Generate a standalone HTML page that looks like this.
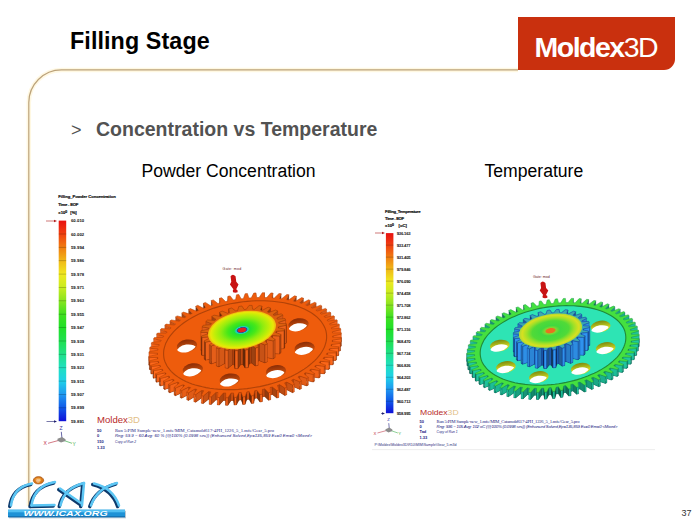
<!DOCTYPE html>
<html><head><meta charset="utf-8"><style>
*{margin:0;padding:0;box-sizing:border-box}
html,body{width:700px;height:525px;overflow:hidden;background:#fff}
body{position:relative;font-family:"Liberation Sans",Arial,sans-serif}
.abs{position:absolute;white-space:nowrap}
#title{left:70px;top:28px;font-size:23.3px;font-weight:bold;color:#000;letter-spacing:0.1px}
#mbox{position:absolute;left:518px;top:17px;width:157px;height:52.5px;background:#c9300e;border-bottom-right-radius:11px}
#mtxt{left:534.5px;top:31.3px;font-size:28.5px;color:#fff;letter-spacing:-1.5px}
#mtxt b{font-weight:bold}
#mtxt span{font-weight:normal}
#gt{left:71px;top:119.5px;font-size:18px;color:#525252;}
#sub{left:96px;top:117.8px;font-size:19.5px;font-weight:bold;color:#525252}
#pc{left:141.5px;top:160.5px;font-size:17.6px;color:#000}
#tc{left:484.5px;top:160.5px;font-size:17.6px;color:#000}
#pg{left:681.6px;top:508.4px;font-size:9px;color:#333}
svg{position:absolute;left:0;top:0}
.lab{font-size:4.2px;font-weight:bold;fill:#1a1a1a;stroke:#1a1a1a;stroke-width:0.05px;font-family:"Liberation Sans",Arial,sans-serif}
.tt{font-size:4.2px;font-weight:bold;fill:#111;stroke:#111;stroke-width:0.18px;font-family:"Liberation Sans",Arial,sans-serif}
.ax{font-size:5px;font-family:"Liberation Sans",Arial,sans-serif}
.nv{font-size:4px;font-weight:bold;fill:#202080;font-family:"Liberation Sans",Arial,sans-serif}
.inf{font-size:4.6px;fill:#202080;font-family:"Liberation Serif",serif}
.infi{font-size:4.3px;fill:#202080;font-style:italic;font-family:"Liberation Sans",Arial,sans-serif}
</style></head><body>
<div class="abs" id="title">Filling Stage</div>
<div id="mbox"></div>
<div class="abs" id="mtxt"><b>Moldex</b><span>3D</span></div>
<div class="abs" id="gt">&gt;</div>
<div class="abs" id="sub">Concentration vs Temperature</div>
<div class="abs" id="pc">Powder Concentration</div>
<div class="abs" id="tc">Temperature</div>
<svg width="700" height="525" viewBox="0 0 700 525">
<defs>
<linearGradient id="gbL" x1="0" y1="0" x2="0" y2="1">
<stop offset="0.0000" stop-color="#e81010"/>
<stop offset="0.0667" stop-color="#f04010"/>
<stop offset="0.1333" stop-color="#f07c10"/>
<stop offset="0.2000" stop-color="#f0b818"/>
<stop offset="0.2667" stop-color="#f0e820"/>
<stop offset="0.3333" stop-color="#c8ec20"/>
<stop offset="0.4000" stop-color="#88e420"/>
<stop offset="0.4667" stop-color="#40e020"/>
<stop offset="0.5333" stop-color="#20e028"/>
<stop offset="0.6000" stop-color="#20e050"/>
<stop offset="0.6667" stop-color="#20e088"/>
<stop offset="0.7333" stop-color="#20e0c0"/>
<stop offset="0.8000" stop-color="#20d0e8"/>
<stop offset="0.8667" stop-color="#2098f0"/>
<stop offset="0.9333" stop-color="#1058e8"/>
<stop offset="1.0000" stop-color="#1010d8"/>
</linearGradient>
<linearGradient id="gbR" x1="0" y1="0" x2="0" y2="1">
<stop offset="0.0000" stop-color="#e81010"/>
<stop offset="0.0667" stop-color="#f04010"/>
<stop offset="0.1333" stop-color="#f07c10"/>
<stop offset="0.2000" stop-color="#f0b818"/>
<stop offset="0.2667" stop-color="#f0e820"/>
<stop offset="0.3333" stop-color="#c8ec20"/>
<stop offset="0.4000" stop-color="#88e420"/>
<stop offset="0.4667" stop-color="#40e020"/>
<stop offset="0.5333" stop-color="#20e028"/>
<stop offset="0.6000" stop-color="#20e050"/>
<stop offset="0.6667" stop-color="#20e088"/>
<stop offset="0.7333" stop-color="#20e0c0"/>
<stop offset="0.8000" stop-color="#20d0e8"/>
<stop offset="0.8667" stop-color="#2098f0"/>
<stop offset="0.9333" stop-color="#1058e8"/>
<stop offset="1.0000" stop-color="#1010d8"/>
</linearGradient>
<radialGradient id="hubL" cx="0.5" cy="0.5" r="0.5">
<stop offset="0" stop-color="#e02020"/>
<stop offset="0.11" stop-color="#e02020"/>
<stop offset="0.14" stop-color="#2050a0"/>
<stop offset="0.17" stop-color="#20d0d0"/>
<stop offset="0.23" stop-color="#20e030"/>
<stop offset="0.42" stop-color="#48e818"/>
<stop offset="0.62" stop-color="#90ec10"/>
<stop offset="0.8" stop-color="#c0ee08"/>
<stop offset="0.92" stop-color="#e8e808"/>
<stop offset="1" stop-color="#f0b010"/>
</radialGradient>
<linearGradient id="hwL" x1="0" y1="0" x2="0" y2="1"><stop offset="0" stop-color="#8a2c06"/><stop offset="0.6" stop-color="#c04a0c"/><stop offset="1" stop-color="#d85a10"/></linearGradient>
<linearGradient id="hwR" x1="0" y1="0" x2="0" y2="1"><stop offset="0" stop-color="#7a8a10"/><stop offset="0.6" stop-color="#c8d020"/><stop offset="1" stop-color="#d8e020"/></linearGradient>
<radialGradient id="hubR" cx="0.5" cy="0.5" r="0.5">
<stop offset="0" stop-color="#e87020"/>
<stop offset="0.13" stop-color="#e87020"/>
<stop offset="0.18" stop-color="#80d830"/>
<stop offset="0.3" stop-color="#40d840"/>
<stop offset="0.58" stop-color="#50da38"/>
<stop offset="0.75" stop-color="#a0e028"/>
<stop offset="0.9" stop-color="#d8e020"/>
<stop offset="1" stop-color="#a8d838"/>
</radialGradient>
</defs>
<path d="M518,69.9 H61.5 A32.7,32.7 0 0 0 28.8,102.6 V506" fill="none" stroke="#fff3cf" stroke-width="4.5" opacity="0.6"/>
<path d="M518,69.9 H61.5 A32.7,32.7 0 0 0 28.8,102.6 V506" fill="none" stroke="#bca27a" stroke-width="1.2"/>
<g id="icax">
<g fill="none" stroke="#0d3a6c" stroke-width="3.4" stroke-linecap="round" transform="translate(-1.3,1.1)">
<path d="M11,505.5 Q13.5,487 32,483.5"/>
<path d="M31.5,505.5 Q34,486 55,482"/>
<path d="M31.5,505.5 L54.5,505"/>
<path d="M60.5,505.5 Q64,488 84,483"/>
<path d="M84,483 L82,505.5"/>
<path d="M60,488.5 L81.5,503.5"/>
<path d="M94,483.5 Q113,488 119,505.5"/>
<path d="M117,483 Q97,488 91,505.5"/>
</g>
<g fill="none" stroke="#5cc6f4" stroke-width="2.5" stroke-linecap="round">
<path d="M11,505.5 Q13.5,487 32,483.5"/>
<path d="M31.5,505.5 Q34,486 55,482"/>
<path d="M31.5,505.5 L54.5,505"/>
<path d="M60.5,505.5 Q64,488 84,483"/>
<path d="M84,483 L82,505.5"/>
<path d="M60,488.5 L81.5,503.5"/>
<path d="M94,483.5 Q113,488 119,505.5"/>
<path d="M117,483 Q97,488 91,505.5"/>
</g>
<ellipse cx="38.5" cy="480.3" rx="5.2" ry="3.7" fill="#d87818" stroke="#9a4c10" stroke-width="0.6"/>
<ellipse cx="38.3" cy="479.8" rx="3" ry="2" fill="#f0a040"/>
<text x="36.5" y="482" font-size="4" fill="#fff" font-family="Liberation Sans" font-weight="bold">@</text>
<rect x="9" y="510.8" width="117" height="7.5" fill="#8aa0b0" opacity="0.6"/>
<rect x="8" y="509.7" width="117" height="7.5" fill="#1f92d6"/>
<rect x="8" y="509.7" width="117" height="2.6" fill="#52bff2"/>
<rect x="8" y="516.4" width="117" height="0.8" fill="#1060a0"/>
<text x="23.6" y="516" font-size="6.3" font-weight="bold" font-style="italic" fill="#fff" font-family="Liberation Sans" textLength="84" lengthAdjust="spacingAndGlyphs">WWW.ICAX.ORG</text>
</g>

<!-- left legend -->
<text x="58.3" y="197.6" class="tt" textLength="57.5">Filling_Powder Concentration</text>
<text x="58.3" y="205.8" class="tt" textLength="20">Time - EOF</text>
<text x="58.3" y="214" class="tt">x10<tspan dy="-1.5" font-size="3.5">0</tspan><tspan dy="1.5" dx="3">[%]</tspan></text>
<rect x="58.7" y="220.6" width="7.5" height="200.6" fill="url(#gbL)"/>
<rect x="58.7" y="233.6" width="7.5" height="0.8" fill="#000" opacity="0.25"/>
<rect x="58.7" y="246.9" width="7.5" height="0.8" fill="#000" opacity="0.25"/>
<rect x="58.7" y="260.3" width="7.5" height="0.8" fill="#000" opacity="0.25"/>
<rect x="58.7" y="273.7" width="7.5" height="0.8" fill="#000" opacity="0.25"/>
<rect x="58.7" y="287.1" width="7.5" height="0.8" fill="#000" opacity="0.25"/>
<rect x="58.7" y="300.4" width="7.5" height="0.8" fill="#000" opacity="0.25"/>
<rect x="58.7" y="313.8" width="7.5" height="0.8" fill="#000" opacity="0.25"/>
<rect x="58.7" y="327.2" width="7.5" height="0.8" fill="#000" opacity="0.25"/>
<rect x="58.7" y="340.6" width="7.5" height="0.8" fill="#000" opacity="0.25"/>
<rect x="58.7" y="353.9" width="7.5" height="0.8" fill="#000" opacity="0.25"/>
<rect x="58.7" y="367.3" width="7.5" height="0.8" fill="#000" opacity="0.25"/>
<rect x="58.7" y="380.7" width="7.5" height="0.8" fill="#000" opacity="0.25"/>
<rect x="58.7" y="394.1" width="7.5" height="0.8" fill="#000" opacity="0.25"/>
<rect x="58.7" y="407.4" width="7.5" height="0.8" fill="#000" opacity="0.25"/>
<text x="70.9" y="222.1" class="lab" textLength="13.3">60.010</text>
<text x="70.9" y="235.5" class="lab" textLength="13.3">60.002</text>
<text x="70.9" y="248.8" class="lab" textLength="13.3">59.994</text>
<text x="70.9" y="262.2" class="lab" textLength="13.3">59.986</text>
<text x="70.9" y="275.6" class="lab" textLength="13.3">59.978</text>
<text x="70.9" y="289.0" class="lab" textLength="13.3">59.971</text>
<text x="70.9" y="302.3" class="lab" textLength="13.3">59.963</text>
<text x="70.9" y="315.7" class="lab" textLength="13.3">59.955</text>
<text x="70.9" y="329.1" class="lab" textLength="13.3">59.947</text>
<text x="70.9" y="342.5" class="lab" textLength="13.3">59.939</text>
<text x="70.9" y="355.8" class="lab" textLength="13.3">59.931</text>
<text x="70.9" y="369.2" class="lab" textLength="13.3">59.923</text>
<text x="70.9" y="382.6" class="lab" textLength="13.3">59.915</text>
<text x="70.9" y="396.0" class="lab" textLength="13.3">59.907</text>
<text x="70.9" y="409.3" class="lab" textLength="13.3">59.899</text>
<text x="70.9" y="422.7" class="lab" textLength="13.3">59.891</text>
<path d="M46,221 L55,221" stroke="#b02020" stroke-width="0.6"/><path d="M57,221 L54,219.8 L54,222.2 Z" fill="#b02020"/>
<path d="M46.5,421.5 L55,421.5" stroke="#202070" stroke-width="0.6"/><path d="M57,421.5 L54,420.3 L54,422.7 Z" fill="#202070"/>
<line x1="62" y1="438.8" x2="61.3" y2="431.8" stroke="#404090" stroke-width="0.8"/>
<line x1="61" y1="439.8" x2="48" y2="443.3" stroke="#c04050" stroke-width="0.7"/>
<line x1="62" y1="439.8" x2="72" y2="443.3" stroke="#40b050" stroke-width="0.7"/>
<path d="M57.5,438.8 L62,437.0 L65.5,439.3 L65.5,441.0 L61,442.6 L57.5,440.8 Z" fill="#8c8c8c"/>
<text x="59.5" y="429.8" class="ax" fill="#3030a0">Z</text>
<text x="43.5" y="445.3" class="ax" fill="#c03040">X</text>
<text x="72.5" y="445.8" class="ax" fill="#40b050">Y</text>
<!-- right legend -->
<text x="385.1" y="212.6" class="tt" textLength="35.5">Filling_Temperature</text>
<text x="385.1" y="219.8" class="tt" textLength="19">Time - EOF</text>
<text x="385.1" y="227.3" class="tt">x10<tspan dy="-1.5" font-size="3.5">0</tspan><tspan dy="1.5" dx="4.5">[oC]</tspan></text>
<rect x="385.9" y="233.1" width="7.5" height="180.1" fill="url(#gbR)"/>
<rect x="385.9" y="244.7" width="7.5" height="0.8" fill="#000" opacity="0.25"/>
<rect x="385.9" y="256.7" width="7.5" height="0.8" fill="#000" opacity="0.25"/>
<rect x="385.9" y="268.7" width="7.5" height="0.8" fill="#000" opacity="0.25"/>
<rect x="385.9" y="280.7" width="7.5" height="0.8" fill="#000" opacity="0.25"/>
<rect x="385.9" y="292.7" width="7.5" height="0.8" fill="#000" opacity="0.25"/>
<rect x="385.9" y="304.7" width="7.5" height="0.8" fill="#000" opacity="0.25"/>
<rect x="385.9" y="316.7" width="7.5" height="0.8" fill="#000" opacity="0.25"/>
<rect x="385.9" y="328.8" width="7.5" height="0.8" fill="#000" opacity="0.25"/>
<rect x="385.9" y="340.8" width="7.5" height="0.8" fill="#000" opacity="0.25"/>
<rect x="385.9" y="352.8" width="7.5" height="0.8" fill="#000" opacity="0.25"/>
<rect x="385.9" y="364.8" width="7.5" height="0.8" fill="#000" opacity="0.25"/>
<rect x="385.9" y="376.8" width="7.5" height="0.8" fill="#000" opacity="0.25"/>
<rect x="385.9" y="388.8" width="7.5" height="0.8" fill="#000" opacity="0.25"/>
<rect x="385.9" y="400.8" width="7.5" height="0.8" fill="#000" opacity="0.25"/>
<text x="396.7" y="234.6" class="lab" textLength="14">936.163</text>
<text x="396.7" y="246.6" class="lab" textLength="14">933.477</text>
<text x="396.7" y="258.6" class="lab" textLength="14">931.405</text>
<text x="396.7" y="270.6" class="lab" textLength="14">979.846</text>
<text x="396.7" y="282.6" class="lab" textLength="14">976.090</text>
<text x="396.7" y="294.6" class="lab" textLength="14">974.458</text>
<text x="396.7" y="306.6" class="lab" textLength="14">971.708</text>
<text x="396.7" y="318.6" class="lab" textLength="14">972.862</text>
<text x="396.7" y="330.7" class="lab" textLength="14">971.316</text>
<text x="396.7" y="342.7" class="lab" textLength="14">968.470</text>
<text x="396.7" y="354.7" class="lab" textLength="14">967.724</text>
<text x="396.7" y="366.7" class="lab" textLength="14">966.826</text>
<text x="396.7" y="378.7" class="lab" textLength="14">964.203</text>
<text x="396.7" y="390.7" class="lab" textLength="14">962.487</text>
<text x="396.7" y="402.7" class="lab" textLength="14">960.713</text>
<text x="396.7" y="414.7" class="lab" textLength="14">958.995</text>
<path d="M375,233 L383,233" stroke="#b02020" stroke-width="0.6"/><path d="M385,233 L382,231.8 L382,234.2 Z" fill="#b02020"/>
<path d="M381,413.5 L383,413.5" stroke="#202070" stroke-width="0.6"/><path d="M385,413.5 L382,412.3 L382,414.7 Z" fill="#202070"/>
<g transform="translate(388.5 430) scale(0.85) translate(-388.5 -430)"><line x1="389.5" y1="429" x2="388.8" y2="422" stroke="#404090" stroke-width="0.8"/>
<line x1="388.5" y1="430" x2="375.5" y2="433.5" stroke="#c04050" stroke-width="0.7"/>
<line x1="389.5" y1="430" x2="399.5" y2="433.5" stroke="#40b050" stroke-width="0.7"/>
<path d="M385.0,429 L389.5,427.2 L393.0,429.5 L393.0,431.2 L388.5,432.8 L385.0,431 Z" fill="#8c8c8c"/>
<text x="387.0" y="420" class="ax" fill="#3030a0">Z</text>
<text x="371.0" y="435.5" class="ax" fill="#c03040">X</text>
<text x="400.0" y="436" class="ax" fill="#40b050">Y</text></g>
<!-- gears -->
<polygon points="332.4,340.1 332.5,340.6 341.3,340.4 341.3,341.6 332.7,343.6 332.7,344.2 332.7,344.8 341.3,345.1 341.1,346.3 332.4,347.8 332.2,348.5 332.1,349.1 340.5,349.7 340.2,351.0 331.3,352.1 331.1,352.8 330.9,353.4 338.9,354.4 338.4,355.7 329.6,356.4 329.2,357.0 328.9,357.6 336.6,359.1 335.9,360.4 327.2,360.6 326.7,361.3 326.3,361.9 333.6,363.8 332.7,365.0 324.1,364.8 323.5,365.5 323.0,366.0 329.8,368.3 328.8,369.5 320.4,368.9 319.7,369.5 319.1,370.1 325.4,372.8 324.2,373.9 316.0,372.9 315.3,373.5 314.6,374.0 320.3,377.0 318.9,378.1 311.1,376.7 310.3,377.3 309.6,377.8 314.6,381.1 313.1,382.1 305.7,380.3 304.8,380.8 304.0,381.3 308.4,385.0 306.7,385.9 299.8,383.7 298.8,384.2 297.9,384.6 301.6,388.5 299.8,389.4 293.5,386.8 292.4,387.3 291.5,387.7 294.4,391.8 292.5,392.7 286.7,389.7 285.6,390.1 284.6,390.5 286.8,394.8 284.8,395.6 279.6,392.2 278.5,392.6 277.5,393.0 278.9,397.5 276.8,398.1 272.3,394.5 271.1,394.8 270.0,395.1 270.7,399.8 268.5,400.3 264.7,396.4 263.5,396.7 262.4,396.9 262.2,401.7 260.0,402.1 257.0,398.0 255.7,398.2 254.6,398.4 253.7,403.2 251.4,403.5 249.1,399.2 247.9,399.3 246.8,399.5 245.1,404.3 242.8,404.5 241.3,400.0 240.0,400.1 238.9,400.2 236.4,405.0 234.2,405.1 233.5,400.5 232.2,400.5 231.1,400.5 227.9,405.3 225.7,405.3 225.7,400.5 224.5,400.5 223.4,400.5 219.4,405.1 217.3,405.0 218.1,400.2 216.9,400.1 215.9,400.0 211.2,404.5 209.1,404.3 210.8,399.5 209.6,399.4 208.6,399.2 203.3,403.6 201.3,403.2 203.7,398.4 202.6,398.2 201.6,398.0 195.7,402.2 193.8,401.7 196.9,397.0 195.9,396.7 195.0,396.5 188.5,400.4 186.7,399.8 190.6,395.2 189.6,394.9 188.7,394.6 181.7,398.2 180.1,397.6 184.6,393.0 183.7,392.7 183.0,392.3 175.5,395.7 174.0,394.9 179.2,390.6 178.4,390.2 177.7,389.8 169.8,392.8 168.4,392.0 174.3,387.8 173.6,387.3 172.9,386.9 164.7,389.6 163.5,388.7 170.0,384.8 169.3,384.2 168.8,383.8 160.3,386.1 159.3,385.1 166.2,381.4 165.7,380.9 165.2,380.4 156.6,382.3 155.7,381.3 163.1,377.9 162.7,377.3 162.3,376.8 153.5,378.3 152.9,377.2 160.7,374.2 160.4,373.6 160.1,373.0 151.2,374.1 150.8,372.9 158.9,370.3 158.7,369.6 158.5,369.1 149.7,369.7 149.4,368.5 157.9,366.2 157.8,365.5 157.7,365.0 148.9,365.2 148.9,364.0 157.5,362.0 157.5,361.4 157.5,360.8 148.9,360.5 149.1,359.3 157.8,357.8 158.0,357.1 158.1,356.5 149.7,355.9 150.0,354.6 158.9,353.5 159.1,352.8 159.3,352.2 151.3,351.2 151.8,349.9 160.6,349.2 161.0,348.6 161.3,348.0 153.6,346.5 154.3,345.2 163.0,345.0 163.5,344.3 163.9,343.7 156.6,341.8 157.5,340.6 166.1,340.8 166.7,340.1 167.2,339.6 160.4,337.3 161.4,336.1 169.8,336.7 170.5,336.1 171.1,335.5 164.8,332.8 166.0,331.7 174.2,332.7 174.9,332.1 175.6,331.6 169.9,328.6 171.3,327.5 179.1,328.9 179.9,328.3 180.6,327.8 175.6,324.5 177.1,323.5 184.5,325.3 185.4,324.8 186.2,324.3 181.8,320.6 183.5,319.7 190.4,321.9 191.4,321.4 192.3,321.0 188.6,317.1 190.4,316.2 196.7,318.8 197.8,318.3 198.7,317.9 195.8,313.8 197.7,312.9 203.5,315.9 204.6,315.5 205.6,315.1 203.4,310.8 205.4,310.0 210.6,313.4 211.7,313.0 212.7,312.6 211.3,308.1 213.4,307.5 217.9,311.1 219.1,310.8 220.2,310.5 219.5,305.8 221.7,305.3 225.5,309.2 226.7,308.9 227.8,308.7 228.0,303.9 230.2,303.5 233.2,307.6 234.5,307.4 235.6,307.2 236.5,302.4 238.8,302.1 241.1,306.4 242.3,306.3 243.4,306.1 245.1,301.3 247.4,301.1 248.9,305.6 250.2,305.5 251.3,305.4 253.8,300.6 256.0,300.5 256.7,305.1 258.0,305.1 259.1,305.1 262.3,300.3 264.5,300.3 264.5,305.1 265.7,305.1 266.8,305.1 270.8,300.5 272.9,300.6 272.1,305.4 273.3,305.5 274.3,305.6 279.0,301.1 281.1,301.3 279.4,306.1 280.6,306.2 281.6,306.4 286.9,302.0 288.9,302.4 286.5,307.2 287.6,307.4 288.6,307.6 294.5,303.4 296.4,303.9 293.3,308.6 294.3,308.9 295.2,309.1 301.7,305.2 303.5,305.8 299.6,310.4 300.6,310.7 301.5,311.0 308.5,307.4 310.1,308.0 305.6,312.6 306.5,312.9 307.2,313.3 314.7,309.9 316.2,310.7 311.0,315.0 311.8,315.4 312.5,315.8 320.4,312.8 321.8,313.6 315.9,317.8 316.6,318.3 317.3,318.7 325.5,316.0 326.7,316.9 320.2,320.8 320.9,321.4 321.4,321.8 329.9,319.5 330.9,320.5 324.0,324.2 324.5,324.7 325.0,325.2 333.6,323.3 334.5,324.3 327.1,327.7 327.5,328.3 327.9,328.8 336.7,327.3 337.3,328.4 329.5,331.4 329.8,332.0 330.1,332.6 339.0,331.5 339.4,332.7 331.3,335.3 331.5,336.0 331.7,336.5 340.5,335.9 340.8,337.1 332.3,339.4" fill="#7a2804" />
<polygon points="264.5,292.7 264.5,297.5 264.5,305.1 264.5,300.3" fill="#512108" stroke="#8a3008" stroke-width="0.3"/>
<polygon points="272.9,293.0 272.1,297.8 272.1,305.4 272.9,300.6" fill="#5b2509" stroke="#8a3008" stroke-width="0.3"/>
<polygon points="281.1,293.7 279.4,298.5 279.4,306.1 281.1,301.3" fill="#6d2c0b" stroke="#8a3008" stroke-width="0.3"/>
<polygon points="288.9,294.8 286.5,299.6 286.5,307.2 288.9,302.4" fill="#81350d" stroke="#8a3008" stroke-width="0.3"/>
<polygon points="296.4,296.3 293.3,301.0 293.3,308.6 296.4,303.9" fill="#953d0f" stroke="#8a3008" stroke-width="0.3"/>
<polygon points="227.8,301.1 228.0,296.3 228.0,303.9 227.8,308.7" fill="#4e2008" stroke="#8a3008" stroke-width="0.3"/>
<polygon points="303.5,298.2 299.6,302.8 299.6,310.4 303.5,305.8" fill="#a94511" stroke="#8a3008" stroke-width="0.3"/>
<polygon points="220.2,302.9 219.5,298.2 219.5,305.8 220.2,310.5" fill="#4f2008" stroke="#8a3008" stroke-width="0.3"/>
<polygon points="310.1,300.4 305.6,305.0 305.6,312.6 310.1,308.0" fill="#b94c13" stroke="#8a3008" stroke-width="0.3"/>
<polygon points="212.7,305.0 211.3,300.5 211.3,308.1 212.7,312.6" fill="#562309" stroke="#8a3008" stroke-width="0.3"/>
<polygon points="316.2,303.1 311.0,307.4 311.0,315.0 316.2,310.7" fill="#c85214" stroke="#8a3008" stroke-width="0.3"/>
<polygon points="205.6,307.5 203.4,303.2 203.4,310.8 205.6,315.1" fill="#65290a" stroke="#8a3008" stroke-width="0.3"/>
<polygon points="321.8,306.0 315.9,310.2 315.9,317.8 321.8,313.6" fill="#d45616" stroke="#8a3008" stroke-width="0.3"/>
<polygon points="198.7,310.3 195.8,306.2 195.8,313.8 198.7,317.9" fill="#7a320c" stroke="#8a3008" stroke-width="0.3"/>
<polygon points="326.7,309.3 320.2,313.2 320.2,320.8 326.7,316.9" fill="#de5b17" stroke="#8a3008" stroke-width="0.3"/>
<polygon points="192.3,313.4 188.6,309.5 188.6,317.1 192.3,321.0" fill="#903b0f" stroke="#8a3008" stroke-width="0.3"/>
<polygon points="330.9,312.9 324.0,316.6 324.0,324.2 330.9,320.5" fill="#e65e17" stroke="#8a3008" stroke-width="0.3"/>
<polygon points="186.2,316.7 181.8,313.0 181.8,320.6 186.2,324.3" fill="#a64411" stroke="#8a3008" stroke-width="0.3"/>
<polygon points="334.5,316.7 327.1,320.1 327.1,327.7 334.5,324.3" fill="#ed6118" stroke="#8a3008" stroke-width="0.3"/>
<polygon points="180.6,320.2 175.6,316.9 175.6,324.5 180.6,327.8" fill="#b94b13" stroke="#8a3008" stroke-width="0.3"/>
<polygon points="337.3,320.8 329.5,323.8 329.5,331.4 337.3,328.4" fill="#f26319" stroke="#8a3008" stroke-width="0.3"/>
<polygon points="175.6,324.0 169.9,321.0 169.9,328.6 175.6,331.6" fill="#c95214" stroke="#8a3008" stroke-width="0.3"/>
<polygon points="339.4,325.1 331.3,327.7 331.3,335.3 339.4,332.7" fill="#f76519" stroke="#8a3008" stroke-width="0.3"/>
<polygon points="171.1,327.9 164.8,325.2 164.8,332.8 171.1,335.5" fill="#d65716" stroke="#8a3008" stroke-width="0.3"/>
<polygon points="340.8,329.5 332.3,331.8 332.3,339.4 340.8,337.1" fill="#fa6619" stroke="#8a3008" stroke-width="0.3"/>
<polygon points="167.2,332.0 160.4,329.7 160.4,337.3 167.2,339.6" fill="#e15c17" stroke="#8a3008" stroke-width="0.3"/>
<polygon points="341.3,334.0 332.7,336.0 332.7,343.6 341.3,341.6" fill="#fc671a" stroke="#8a3008" stroke-width="0.3"/>
<polygon points="163.9,336.1 156.6,334.2 156.6,341.8 163.9,343.7" fill="#e95f18" stroke="#8a3008" stroke-width="0.3"/>
<polygon points="332.7,336.0 332.7,336.6 332.7,344.2 332.7,343.6" fill="#512108" stroke="#8a3008" stroke-width="0.3"/>
<polygon points="332.7,336.6 332.7,337.2 332.7,344.8 332.7,344.2" fill="#522108" stroke="#8a3008" stroke-width="0.3"/>
<polygon points="341.3,337.5 341.1,338.7 341.1,346.3 341.3,345.1" fill="#562309" stroke="#8a3008" stroke-width="0.3"/>
<polygon points="341.1,338.7 332.4,340.2 332.4,347.8 341.1,346.3" fill="#fe681a" stroke="#8a3008" stroke-width="0.3"/>
<polygon points="161.3,340.4 153.6,338.9 153.6,346.5 161.3,348.0" fill="#f06218" stroke="#8a3008" stroke-width="0.3"/>
<polygon points="332.4,340.2 332.2,340.9 332.2,348.5 332.4,347.8" fill="#5b2509" stroke="#8a3008" stroke-width="0.3"/>
<polygon points="332.2,340.9 332.1,341.5 332.1,349.1 332.2,348.5" fill="#5e260a" stroke="#8a3008" stroke-width="0.3"/>
<polygon points="340.5,342.1 340.2,343.4 340.2,351.0 340.5,349.7" fill="#65290a" stroke="#8a3008" stroke-width="0.3"/>
<polygon points="340.2,343.4 331.3,344.5 331.3,352.1 340.2,351.0" fill="#ff681a" stroke="#8a3008" stroke-width="0.3"/>
<polygon points="159.3,344.6 151.3,343.6 151.3,351.2 159.3,352.2" fill="#f56419" stroke="#8a3008" stroke-width="0.3"/>
<polygon points="331.3,344.5 331.1,345.2 331.1,352.8 331.3,352.1" fill="#6d2c0b" stroke="#8a3008" stroke-width="0.3"/>
<polygon points="331.1,345.2 330.9,345.8 330.9,353.4 331.1,352.8" fill="#6f2e0b" stroke="#8a3008" stroke-width="0.3"/>
<polygon points="338.9,346.8 338.4,348.1 338.4,355.7 338.9,354.4" fill="#78310c" stroke="#8a3008" stroke-width="0.3"/>
<polygon points="338.4,348.1 329.6,348.8 329.6,356.4 338.4,355.7" fill="#ff681a" stroke="#8a3008" stroke-width="0.3"/>
<polygon points="158.1,348.9 149.7,348.3 149.7,355.9 158.1,356.5" fill="#f96619" stroke="#8a3008" stroke-width="0.3"/>
<polygon points="329.6,348.8 329.2,349.4 329.2,357.0 329.6,356.4" fill="#81350d" stroke="#8a3008" stroke-width="0.3"/>
<polygon points="329.2,349.4 328.9,350.0 328.9,357.6 329.2,357.0" fill="#84360d" stroke="#8a3008" stroke-width="0.3"/>
<polygon points="336.6,351.5 335.9,352.8 335.9,360.4 336.6,359.1" fill="#8d390e" stroke="#8a3008" stroke-width="0.3"/>
<polygon points="335.9,352.8 327.2,353.0 327.2,360.6 335.9,360.4" fill="#fe681a" stroke="#8a3008" stroke-width="0.3"/>
<polygon points="157.5,353.2 148.9,352.9 148.9,360.5 157.5,360.8" fill="#fc671a" stroke="#8a3008" stroke-width="0.3"/>
<polygon points="327.2,353.0 326.7,353.7 326.7,361.3 327.2,360.6" fill="#953d0f" stroke="#8a3008" stroke-width="0.3"/>
<polygon points="157.5,353.8 157.5,353.2 157.5,360.8 157.5,361.4" fill="#4e2008" stroke="#8a3008" stroke-width="0.3"/>
<polygon points="326.7,353.7 326.3,354.3 326.3,361.9 326.7,361.3" fill="#983e10" stroke="#8a3008" stroke-width="0.3"/>
<polygon points="157.5,354.4 157.5,353.8 157.5,361.4 157.5,362.0" fill="#4e2008" stroke="#8a3008" stroke-width="0.3"/>
<polygon points="333.6,356.2 332.7,357.4 332.7,365.0 333.6,363.8" fill="#a04110" stroke="#8a3008" stroke-width="0.3"/>
<polygon points="332.7,357.4 324.1,357.2 324.1,364.8 332.7,365.0" fill="#fc671a" stroke="#8a3008" stroke-width="0.3"/>
<polygon points="157.7,357.4 148.9,357.6 148.9,365.2 157.7,365.0" fill="#fe681a" stroke="#8a3008" stroke-width="0.3"/>
<polygon points="148.9,357.6 148.9,356.4 148.9,364.0 148.9,365.2" fill="#4e2008" stroke="#8a3008" stroke-width="0.3"/>
<polygon points="324.1,357.2 323.5,357.9 323.5,365.5 324.1,364.8" fill="#a84511" stroke="#8a3008" stroke-width="0.3"/>
<polygon points="157.8,357.9 157.7,357.4 157.7,365.0 157.8,365.5" fill="#4f2008" stroke="#8a3008" stroke-width="0.3"/>
<polygon points="323.5,357.9 323.0,358.4 323.0,366.0 323.5,365.5" fill="#ab4611" stroke="#8a3008" stroke-width="0.3"/>
<polygon points="157.9,358.6 157.8,357.9 157.8,365.5 157.9,366.2" fill="#4f2008" stroke="#8a3008" stroke-width="0.3"/>
<polygon points="329.8,360.7 328.8,361.9 328.8,369.5 329.8,368.3" fill="#b24912" stroke="#8a3008" stroke-width="0.3"/>
<polygon points="328.8,361.9 320.4,361.3 320.4,368.9 328.8,369.5" fill="#fa6619" stroke="#8a3008" stroke-width="0.3"/>
<polygon points="320.4,361.3 319.7,361.9 319.7,369.5 320.4,368.9" fill="#b94c13" stroke="#8a3008" stroke-width="0.3"/>
<polygon points="158.7,362.0 158.5,361.5 158.5,369.1 158.7,369.6" fill="#562309" stroke="#8a3008" stroke-width="0.3"/>
<polygon points="158.5,361.5 149.7,362.1 149.7,369.7 158.5,369.1" fill="#ff681a" stroke="#8a3008" stroke-width="0.3"/>
<polygon points="149.7,362.1 149.4,360.9 149.4,368.5 149.7,369.7" fill="#512108" stroke="#8a3008" stroke-width="0.3"/>
<polygon points="319.7,361.9 319.1,362.5 319.1,370.1 319.7,369.5" fill="#bb4d13" stroke="#8a3008" stroke-width="0.3"/>
<polygon points="158.9,362.7 158.7,362.0 158.7,369.6 158.9,370.3" fill="#572409" stroke="#8a3008" stroke-width="0.3"/>
<polygon points="316.0,365.3 315.3,365.9 315.3,373.5 316.0,372.9" fill="#c85114" stroke="#8a3008" stroke-width="0.3"/>
<polygon points="160.4,366.0 160.1,365.4 160.1,373.0 160.4,373.6" fill="#65290a" stroke="#8a3008" stroke-width="0.3"/>
<polygon points="325.4,365.2 324.2,366.3 324.2,373.9 325.4,372.8" fill="#c24f14" stroke="#8a3008" stroke-width="0.3"/>
<polygon points="324.2,366.3 316.0,365.3 316.0,372.9 324.2,373.9" fill="#f66419" stroke="#8a3008" stroke-width="0.3"/>
<polygon points="315.3,365.9 314.6,366.4 314.6,374.0 315.3,373.5" fill="#ca5215" stroke="#8a3008" stroke-width="0.3"/>
<polygon points="160.1,365.4 151.2,366.5 151.2,374.1 160.1,373.0" fill="#ff681a" stroke="#8a3008" stroke-width="0.3"/>
<polygon points="151.2,366.5 150.8,365.3 150.8,372.9 151.2,374.1" fill="#5e260a" stroke="#8a3008" stroke-width="0.3"/>
<polygon points="160.7,366.6 160.4,366.0 160.4,373.6 160.7,374.2" fill="#682a0b" stroke="#8a3008" stroke-width="0.3"/>
<polygon points="311.1,369.1 310.3,369.7 310.3,377.3 311.1,376.7" fill="#d45616" stroke="#8a3008" stroke-width="0.3"/>
<polygon points="162.7,369.7 162.3,369.2 162.3,376.8 162.7,377.3" fill="#7a320c" stroke="#8a3008" stroke-width="0.3"/>
<polygon points="310.3,369.7 309.6,370.2 309.6,377.8 310.3,377.3" fill="#d55716" stroke="#8a3008" stroke-width="0.3"/>
<polygon points="163.1,370.3 162.7,369.7 162.7,377.3 163.1,377.9" fill="#7d330d" stroke="#8a3008" stroke-width="0.3"/>
<polygon points="320.3,369.4 318.9,370.5 318.9,378.1 320.3,377.0" fill="#cf5415" stroke="#8a3008" stroke-width="0.3"/>
<polygon points="318.9,370.5 311.1,369.1 311.1,376.7 318.9,378.1" fill="#f16219" stroke="#8a3008" stroke-width="0.3"/>
<polygon points="162.3,369.2 153.5,370.7 153.5,378.3 162.3,376.8" fill="#fe681a" stroke="#8a3008" stroke-width="0.3"/>
<polygon points="153.5,370.7 152.9,369.6 152.9,377.2 153.5,378.3" fill="#702e0b" stroke="#8a3008" stroke-width="0.3"/>
<polygon points="305.7,372.7 304.8,373.2 304.8,380.8 305.7,380.3" fill="#de5b17" stroke="#8a3008" stroke-width="0.3"/>
<polygon points="165.7,373.3 165.2,372.8 165.2,380.4 165.7,380.9" fill="#903b0f" stroke="#8a3008" stroke-width="0.3"/>
<polygon points="304.8,373.2 304.0,373.7 304.0,381.3 304.8,380.8" fill="#df5b17" stroke="#8a3008" stroke-width="0.3"/>
<polygon points="166.2,373.8 165.7,373.3 165.7,380.9 166.2,381.4" fill="#933c0f" stroke="#8a3008" stroke-width="0.3"/>
<polygon points="314.6,373.5 313.1,374.5 313.1,382.1 314.6,381.1" fill="#da5916" stroke="#8a3008" stroke-width="0.3"/>
<polygon points="313.1,374.5 305.7,372.7 305.7,380.3 313.1,382.1" fill="#ea6018" stroke="#8a3008" stroke-width="0.3"/>
<polygon points="165.2,372.8 156.6,374.7 156.6,382.3 165.2,380.4" fill="#fd671a" stroke="#8a3008" stroke-width="0.3"/>
<polygon points="156.6,374.7 155.7,373.7 155.7,381.3 156.6,382.3" fill="#86370e" stroke="#8a3008" stroke-width="0.3"/>
<polygon points="299.8,376.1 298.8,376.6 298.8,384.2 299.8,383.7" fill="#e65e17" stroke="#8a3008" stroke-width="0.3"/>
<polygon points="169.3,376.6 168.8,376.2 168.8,383.8 169.3,384.2" fill="#a54311" stroke="#8a3008" stroke-width="0.3"/>
<polygon points="298.8,376.6 297.9,377.0 297.9,384.6 298.8,384.2" fill="#e75e18" stroke="#8a3008" stroke-width="0.3"/>
<polygon points="170.0,377.2 169.3,376.6 169.3,384.2 170.0,384.8" fill="#a84511" stroke="#8a3008" stroke-width="0.3"/>
<polygon points="308.4,377.4 306.7,378.3 306.7,385.9 308.4,385.0" fill="#e35d17" stroke="#8a3008" stroke-width="0.3"/>
<polygon points="306.7,378.3 299.8,376.1 299.8,383.7 306.7,385.9" fill="#e25c17" stroke="#8a3008" stroke-width="0.3"/>
<polygon points="168.8,376.2 160.3,378.5 160.3,386.1 168.8,383.8" fill="#fa661a" stroke="#8a3008" stroke-width="0.3"/>
<polygon points="160.3,378.5 159.3,377.5 159.3,385.1 160.3,386.1" fill="#9c4010" stroke="#8a3008" stroke-width="0.3"/>
<polygon points="293.5,379.2 292.4,379.7 292.4,387.3 293.5,386.8" fill="#ed6118" stroke="#8a3008" stroke-width="0.3"/>
<polygon points="173.6,379.7 172.9,379.3 172.9,386.9 173.6,387.3" fill="#b84b13" stroke="#8a3008" stroke-width="0.3"/>
<polygon points="292.4,379.7 291.5,380.1 291.5,387.7 292.4,387.3" fill="#ee6118" stroke="#8a3008" stroke-width="0.3"/>
<polygon points="174.3,380.2 173.6,379.7 173.6,387.3 174.3,387.8" fill="#bb4c13" stroke="#8a3008" stroke-width="0.3"/>
<polygon points="301.6,380.9 299.8,381.8 299.8,389.4 301.6,388.5" fill="#ea6018" stroke="#8a3008" stroke-width="0.3"/>
<polygon points="299.8,381.8 293.5,379.2 293.5,386.8 299.8,389.4" fill="#d75816" stroke="#8a3008" stroke-width="0.3"/>
<polygon points="172.9,379.3 164.7,382.0 164.7,389.6 172.9,386.9" fill="#f76519" stroke="#8a3008" stroke-width="0.3"/>
<polygon points="164.7,382.0 163.5,381.1 163.5,388.7 164.7,389.6" fill="#b14812" stroke="#8a3008" stroke-width="0.3"/>
<polygon points="286.7,382.1 285.6,382.5 285.6,390.1 286.7,389.7" fill="#f26319" stroke="#8a3008" stroke-width="0.3"/>
<polygon points="178.4,382.6 177.7,382.2 177.7,389.8 178.4,390.2" fill="#c85214" stroke="#8a3008" stroke-width="0.3"/>
<polygon points="285.6,382.5 284.6,382.9 284.6,390.5 285.6,390.1" fill="#f36319" stroke="#8a3008" stroke-width="0.3"/>
<polygon points="179.2,383.0 178.4,382.6 178.4,390.2 179.2,390.6" fill="#cb5315" stroke="#8a3008" stroke-width="0.3"/>
<polygon points="279.6,384.6 278.5,385.0 278.5,392.6 279.6,392.2" fill="#f76519" stroke="#8a3008" stroke-width="0.3"/>
<polygon points="294.4,384.2 292.5,385.1 292.5,392.7 294.4,391.8" fill="#f06218" stroke="#8a3008" stroke-width="0.3"/>
<polygon points="292.5,385.1 286.7,382.1 286.7,389.7 292.5,392.7" fill="#ca5315" stroke="#8a3008" stroke-width="0.3"/>
<polygon points="183.7,385.1 183.0,384.7 183.0,392.3 183.7,392.7" fill="#d65716" stroke="#8a3008" stroke-width="0.3"/>
<polygon points="177.7,382.2 169.8,385.2 169.8,392.8 177.7,389.8" fill="#f36319" stroke="#8a3008" stroke-width="0.3"/>
<polygon points="169.8,385.2 168.4,384.4 168.4,392.0 169.8,392.8" fill="#c24f14" stroke="#8a3008" stroke-width="0.3"/>
<polygon points="278.5,385.0 277.5,385.4 277.5,393.0 278.5,392.6" fill="#f76519" stroke="#8a3008" stroke-width="0.3"/>
<polygon points="184.6,385.4 183.7,385.1 183.7,392.7 184.6,393.0" fill="#d85816" stroke="#8a3008" stroke-width="0.3"/>
<polygon points="272.3,386.9 271.1,387.2 271.1,394.8 272.3,394.5" fill="#fa6619" stroke="#8a3008" stroke-width="0.3"/>
<polygon points="189.6,387.3 188.7,387.0 188.7,394.6 189.6,394.9" fill="#e15c17" stroke="#8a3008" stroke-width="0.3"/>
<polygon points="271.1,387.2 270.0,387.5 270.0,395.1 271.1,394.8" fill="#fa661a" stroke="#8a3008" stroke-width="0.3"/>
<polygon points="190.6,387.6 189.6,387.3 189.6,394.9 190.6,395.2" fill="#e25c17" stroke="#8a3008" stroke-width="0.3"/>
<polygon points="286.8,387.2 284.8,388.0 284.8,395.6 286.8,394.8" fill="#f56419" stroke="#8a3008" stroke-width="0.3"/>
<polygon points="284.8,388.0 279.6,384.6 279.6,392.2 284.8,395.6" fill="#bb4c13" stroke="#8a3008" stroke-width="0.3"/>
<polygon points="183.0,384.7 175.5,388.1 175.5,395.7 183.0,392.3" fill="#ee6118" stroke="#8a3008" stroke-width="0.3"/>
<polygon points="175.5,388.1 174.0,387.3 174.0,394.9 175.5,395.7" fill="#d05515" stroke="#8a3008" stroke-width="0.3"/>
<polygon points="264.7,388.8 263.5,389.1 263.5,396.7 264.7,396.4" fill="#fc671a" stroke="#8a3008" stroke-width="0.3"/>
<polygon points="195.9,389.1 195.0,388.9 195.0,396.5 195.9,396.7" fill="#e95f18" stroke="#8a3008" stroke-width="0.3"/>
<polygon points="263.5,389.1 262.4,389.3 262.4,396.9 263.5,396.7" fill="#fd671a" stroke="#8a3008" stroke-width="0.3"/>
<polygon points="196.9,389.4 195.9,389.1 195.9,396.7 196.9,397.0" fill="#ea6018" stroke="#8a3008" stroke-width="0.3"/>
<polygon points="278.9,389.9 276.8,390.5 276.8,398.1 278.9,397.5" fill="#f96519" stroke="#8a3008" stroke-width="0.3"/>
<polygon points="276.8,390.5 272.3,386.9 272.3,394.5 276.8,398.1" fill="#a84511" stroke="#8a3008" stroke-width="0.3"/>
<polygon points="257.0,390.4 255.7,390.6 255.7,398.2 257.0,398.0" fill="#fe681a" stroke="#8a3008" stroke-width="0.3"/>
<polygon points="188.7,387.0 181.7,390.6 181.7,398.2 188.7,394.6" fill="#e75e18" stroke="#8a3008" stroke-width="0.3"/>
<polygon points="181.7,390.6 180.1,390.0 180.1,397.6 181.7,398.2" fill="#dc5a16" stroke="#8a3008" stroke-width="0.3"/>
<polygon points="202.6,390.6 201.6,390.4 201.6,398.0 202.6,398.2" fill="#f06218" stroke="#8a3008" stroke-width="0.3"/>
<polygon points="255.7,390.6 254.6,390.8 254.6,398.4 255.7,398.2" fill="#fe681a" stroke="#8a3008" stroke-width="0.3"/>
<polygon points="203.7,390.8 202.6,390.6 202.6,398.2 203.7,398.4" fill="#f16219" stroke="#8a3008" stroke-width="0.3"/>
<polygon points="249.1,391.6 247.9,391.7 247.9,399.3 249.1,399.2" fill="#ff681a" stroke="#8a3008" stroke-width="0.3"/>
<polygon points="209.6,391.8 208.6,391.6 208.6,399.2 209.6,399.4" fill="#f56419" stroke="#8a3008" stroke-width="0.3"/>
<polygon points="247.9,391.7 246.8,391.9 246.8,399.5 247.9,399.3" fill="#ff681a" stroke="#8a3008" stroke-width="0.3"/>
<polygon points="210.8,391.9 209.6,391.8 209.6,399.4 210.8,399.5" fill="#f66419" stroke="#8a3008" stroke-width="0.3"/>
<polygon points="241.3,392.4 240.0,392.5 240.0,400.1 241.3,400.0" fill="#ff681a" stroke="#8a3008" stroke-width="0.3"/>
<polygon points="216.9,392.5 215.9,392.4 215.9,400.0 216.9,400.1" fill="#f96619" stroke="#8a3008" stroke-width="0.3"/>
<polygon points="240.0,392.5 238.9,392.6 238.9,400.2 240.0,400.1" fill="#ff681a" stroke="#8a3008" stroke-width="0.3"/>
<polygon points="218.1,392.6 216.9,392.5 216.9,400.1 218.1,400.2" fill="#fa6619" stroke="#8a3008" stroke-width="0.3"/>
<polygon points="270.7,392.2 268.5,392.7 268.5,400.3 270.7,399.8" fill="#fb671a" stroke="#8a3008" stroke-width="0.3"/>
<polygon points="268.5,392.7 264.7,388.8 264.7,396.4 268.5,400.3" fill="#933c0f" stroke="#8a3008" stroke-width="0.3"/>
<polygon points="195.0,388.9 188.5,392.8 188.5,400.4 195.0,396.5" fill="#df5b17" stroke="#8a3008" stroke-width="0.3"/>
<polygon points="188.5,392.8 186.7,392.2 186.7,399.8 188.5,400.4" fill="#e65e17" stroke="#8a3008" stroke-width="0.3"/>
<polygon points="233.5,392.9 232.2,392.9 232.2,400.5 233.5,400.5" fill="#fe681a" stroke="#8a3008" stroke-width="0.3"/>
<polygon points="224.5,392.9 223.4,392.9 223.4,400.5 224.5,400.5" fill="#fc671a" stroke="#8a3008" stroke-width="0.3"/>
<polygon points="232.2,392.9 231.1,392.9 231.1,400.5 232.2,400.5" fill="#fe681a" stroke="#8a3008" stroke-width="0.3"/>
<polygon points="225.7,392.9 224.5,392.9 224.5,400.5 225.7,400.5" fill="#fc671a" stroke="#8a3008" stroke-width="0.3"/>
<polygon points="262.4,389.3 262.2,394.1 262.2,401.7 262.4,396.9" fill="#522108" stroke="#8a3008" stroke-width="0.3"/>
<polygon points="262.2,394.1 260.0,394.5 260.0,402.1 262.2,401.7" fill="#fd671a" stroke="#8a3008" stroke-width="0.3"/>
<polygon points="260.0,394.5 257.0,390.4 257.0,398.0 260.0,402.1" fill="#7d330d" stroke="#8a3008" stroke-width="0.3"/>
<polygon points="201.6,390.4 195.7,394.6 195.7,402.2 201.6,398.0" fill="#d55716" stroke="#8a3008" stroke-width="0.3"/>
<polygon points="195.7,394.6 193.8,394.1 193.8,401.7 195.7,402.2" fill="#ed6118" stroke="#8a3008" stroke-width="0.3"/>
<polygon points="254.6,390.8 253.7,395.6 253.7,403.2 254.6,398.4" fill="#5d260a" stroke="#8a3008" stroke-width="0.3"/>
<polygon points="253.7,395.6 251.4,395.9 251.4,403.5 253.7,403.2" fill="#fe681a" stroke="#8a3008" stroke-width="0.3"/>
<polygon points="251.4,395.9 249.1,391.6 249.1,399.2 251.4,403.5" fill="#682a0b" stroke="#8a3008" stroke-width="0.3"/>
<polygon points="208.6,391.6 203.3,396.0 203.3,403.6 208.6,399.2" fill="#c95215" stroke="#8a3008" stroke-width="0.3"/>
<polygon points="203.3,396.0 201.3,395.6 201.3,403.2 203.3,403.6" fill="#f36319" stroke="#8a3008" stroke-width="0.3"/>
<polygon points="246.8,391.9 245.1,396.7 245.1,404.3 246.8,399.5" fill="#6f2d0b" stroke="#8a3008" stroke-width="0.3"/>
<polygon points="245.1,396.7 242.8,396.9 242.8,404.5 245.1,404.3" fill="#ff681a" stroke="#8a3008" stroke-width="0.3"/>
<polygon points="242.8,396.9 241.3,392.4 241.3,400.0 242.8,404.5" fill="#572409" stroke="#8a3008" stroke-width="0.3"/>
<polygon points="215.9,392.4 211.2,396.9 211.2,404.5 215.9,400.0" fill="#bb4c13" stroke="#8a3008" stroke-width="0.3"/>
<polygon points="211.2,396.9 209.1,396.7 209.1,404.3 211.2,404.5" fill="#f86519" stroke="#8a3008" stroke-width="0.3"/>
<polygon points="238.9,392.6 236.4,397.4 236.4,405.0 238.9,400.2" fill="#84360d" stroke="#8a3008" stroke-width="0.3"/>
<polygon points="236.4,397.4 234.2,397.5 234.2,405.1 236.4,405.0" fill="#fe681a" stroke="#8a3008" stroke-width="0.3"/>
<polygon points="234.2,397.5 233.5,392.9 233.5,400.5 234.2,405.1" fill="#4f2008" stroke="#8a3008" stroke-width="0.3"/>
<polygon points="223.4,392.9 219.4,397.5 219.4,405.1 223.4,400.5" fill="#ab4611" stroke="#8a3008" stroke-width="0.3"/>
<polygon points="219.4,397.5 217.3,397.4 217.3,405.0 219.4,405.1" fill="#fb661a" stroke="#8a3008" stroke-width="0.3"/>
<polygon points="231.1,392.9 227.9,397.7 227.9,405.3 231.1,400.5" fill="#983e10" stroke="#8a3008" stroke-width="0.3"/>
<polygon points="227.9,397.7 225.7,397.7 225.7,405.3 227.9,405.3" fill="#fd671a" stroke="#8a3008" stroke-width="0.3"/>
<polygon points="225.7,397.7 225.7,392.9 225.7,400.5 225.7,405.3" fill="#4e2008" stroke="#8a3008" stroke-width="0.3"/>
<polygon points="332.4,332.5 332.5,333.0 341.3,332.8 341.3,334.0 332.7,336.0 332.7,336.6 332.7,337.2 341.3,337.5 341.1,338.7 332.4,340.2 332.2,340.9 332.1,341.5 340.5,342.1 340.2,343.4 331.3,344.5 331.1,345.2 330.9,345.8 338.9,346.8 338.4,348.1 329.6,348.8 329.2,349.4 328.9,350.0 336.6,351.5 335.9,352.8 327.2,353.0 326.7,353.7 326.3,354.3 333.6,356.2 332.7,357.4 324.1,357.2 323.5,357.9 323.0,358.4 329.8,360.7 328.8,361.9 320.4,361.3 319.7,361.9 319.1,362.5 325.4,365.2 324.2,366.3 316.0,365.3 315.3,365.9 314.6,366.4 320.3,369.4 318.9,370.5 311.1,369.1 310.3,369.7 309.6,370.2 314.6,373.5 313.1,374.5 305.7,372.7 304.8,373.2 304.0,373.7 308.4,377.4 306.7,378.3 299.8,376.1 298.8,376.6 297.9,377.0 301.6,380.9 299.8,381.8 293.5,379.2 292.4,379.7 291.5,380.1 294.4,384.2 292.5,385.1 286.7,382.1 285.6,382.5 284.6,382.9 286.8,387.2 284.8,388.0 279.6,384.6 278.5,385.0 277.5,385.4 278.9,389.9 276.8,390.5 272.3,386.9 271.1,387.2 270.0,387.5 270.7,392.2 268.5,392.7 264.7,388.8 263.5,389.1 262.4,389.3 262.2,394.1 260.0,394.5 257.0,390.4 255.7,390.6 254.6,390.8 253.7,395.6 251.4,395.9 249.1,391.6 247.9,391.7 246.8,391.9 245.1,396.7 242.8,396.9 241.3,392.4 240.0,392.5 238.9,392.6 236.4,397.4 234.2,397.5 233.5,392.9 232.2,392.9 231.1,392.9 227.9,397.7 225.7,397.7 225.7,392.9 224.5,392.9 223.4,392.9 219.4,397.5 217.3,397.4 218.1,392.6 216.9,392.5 215.9,392.4 211.2,396.9 209.1,396.7 210.8,391.9 209.6,391.8 208.6,391.6 203.3,396.0 201.3,395.6 203.7,390.8 202.6,390.6 201.6,390.4 195.7,394.6 193.8,394.1 196.9,389.4 195.9,389.1 195.0,388.9 188.5,392.8 186.7,392.2 190.6,387.6 189.6,387.3 188.7,387.0 181.7,390.6 180.1,390.0 184.6,385.4 183.7,385.1 183.0,384.7 175.5,388.1 174.0,387.3 179.2,383.0 178.4,382.6 177.7,382.2 169.8,385.2 168.4,384.4 174.3,380.2 173.6,379.7 172.9,379.3 164.7,382.0 163.5,381.1 170.0,377.2 169.3,376.6 168.8,376.2 160.3,378.5 159.3,377.5 166.2,373.8 165.7,373.3 165.2,372.8 156.6,374.7 155.7,373.7 163.1,370.3 162.7,369.7 162.3,369.2 153.5,370.7 152.9,369.6 160.7,366.6 160.4,366.0 160.1,365.4 151.2,366.5 150.8,365.3 158.9,362.7 158.7,362.0 158.5,361.5 149.7,362.1 149.4,360.9 157.9,358.6 157.8,357.9 157.7,357.4 148.9,357.6 148.9,356.4 157.5,354.4 157.5,353.8 157.5,353.2 148.9,352.9 149.1,351.7 157.8,350.2 158.0,349.5 158.1,348.9 149.7,348.3 150.0,347.0 158.9,345.9 159.1,345.2 159.3,344.6 151.3,343.6 151.8,342.3 160.6,341.6 161.0,341.0 161.3,340.4 153.6,338.9 154.3,337.6 163.0,337.4 163.5,336.7 163.9,336.1 156.6,334.2 157.5,333.0 166.1,333.2 166.7,332.5 167.2,332.0 160.4,329.7 161.4,328.5 169.8,329.1 170.5,328.5 171.1,327.9 164.8,325.2 166.0,324.1 174.2,325.1 174.9,324.5 175.6,324.0 169.9,321.0 171.3,319.9 179.1,321.3 179.9,320.7 180.6,320.2 175.6,316.9 177.1,315.9 184.5,317.7 185.4,317.2 186.2,316.7 181.8,313.0 183.5,312.1 190.4,314.3 191.4,313.8 192.3,313.4 188.6,309.5 190.4,308.6 196.7,311.2 197.8,310.7 198.7,310.3 195.8,306.2 197.7,305.3 203.5,308.3 204.6,307.9 205.6,307.5 203.4,303.2 205.4,302.4 210.6,305.8 211.7,305.4 212.7,305.0 211.3,300.5 213.4,299.9 217.9,303.5 219.1,303.2 220.2,302.9 219.5,298.2 221.7,297.7 225.5,301.6 226.7,301.3 227.8,301.1 228.0,296.3 230.2,295.9 233.2,300.0 234.5,299.8 235.6,299.6 236.5,294.8 238.8,294.5 241.1,298.8 242.3,298.7 243.4,298.5 245.1,293.7 247.4,293.5 248.9,298.0 250.2,297.9 251.3,297.8 253.8,293.0 256.0,292.9 256.7,297.5 258.0,297.5 259.1,297.5 262.3,292.7 264.5,292.7 264.5,297.5 265.7,297.5 266.8,297.5 270.8,292.9 272.9,293.0 272.1,297.8 273.3,297.9 274.3,298.0 279.0,293.5 281.1,293.7 279.4,298.5 280.6,298.6 281.6,298.8 286.9,294.4 288.9,294.8 286.5,299.6 287.6,299.8 288.6,300.0 294.5,295.8 296.4,296.3 293.3,301.0 294.3,301.3 295.2,301.5 301.7,297.6 303.5,298.2 299.6,302.8 300.6,303.1 301.5,303.4 308.5,299.8 310.1,300.4 305.6,305.0 306.5,305.3 307.2,305.7 314.7,302.3 316.2,303.1 311.0,307.4 311.8,307.8 312.5,308.2 320.4,305.2 321.8,306.0 315.9,310.2 316.6,310.7 317.3,311.1 325.5,308.4 326.7,309.3 320.2,313.2 320.9,313.8 321.4,314.2 329.9,311.9 330.9,312.9 324.0,316.6 324.5,317.1 325.0,317.6 333.6,315.7 334.5,316.7 327.1,320.1 327.5,320.7 327.9,321.2 336.7,319.7 337.3,320.8 329.5,323.8 329.8,324.4 330.1,325.0 339.0,323.9 339.4,325.1 331.3,327.7 331.5,328.4 331.7,328.9 340.5,328.3 340.8,329.5 332.3,331.8" fill="#ee5c0c" stroke="#b04008" stroke-width="0.5"/>
<polygon points="326.4,333.3 326.6,335.6 326.6,337.9 326.4,340.2 325.9,342.5 325.2,344.8 324.4,347.2 323.2,349.5 321.9,351.8 320.4,354.1 318.6,356.3 316.7,358.6 314.5,360.8 312.2,362.9 309.7,365.0 307.0,367.1 304.1,369.1 301.1,371.0 297.9,372.9 294.6,374.7 291.2,376.4 287.6,378.0 283.9,379.5 280.1,380.9 276.2,382.3 272.2,383.5 268.1,384.6 264.0,385.6 259.8,386.6 255.6,387.3 251.3,388.0 247.1,388.6 242.8,389.0 238.6,389.4 234.3,389.6 230.1,389.6 225.9,389.6 221.8,389.4 217.7,389.1 213.8,388.7 209.9,388.2 206.1,387.6 202.4,386.8 198.8,385.9 195.3,385.0 192.0,383.9 188.9,382.7 185.9,381.4 183.0,380.0 180.3,378.5 177.8,376.9 175.5,375.2 173.4,373.5 171.4,371.6 169.7,369.7 168.2,367.7 166.9,365.7 165.8,363.6 164.9,361.5 164.2,359.3 163.8,357.1 163.6,354.8 163.6,352.5 163.8,350.2 164.3,347.9 165.0,345.6 165.8,343.2 167.0,340.9 168.3,338.6 169.8,336.3 171.6,334.1 173.5,331.8 175.7,329.6 178.0,327.5 180.5,325.4 183.2,323.3 186.1,321.3 189.1,319.4 192.3,317.5 195.6,315.7 199.0,314.0 202.6,312.4 206.3,310.9 210.1,309.5 214.0,308.1 218.0,306.9 222.1,305.8 226.2,304.8 230.4,303.8 234.6,303.1 238.9,302.4 243.1,301.8 247.4,301.4 251.6,301.0 255.9,300.8 260.1,300.8 264.3,300.8 268.4,301.0 272.5,301.3 276.4,301.7 280.3,302.2 284.1,302.8 287.8,303.6 291.4,304.5 294.9,305.4 298.2,306.5 301.3,307.7 304.3,309.0 307.2,310.4 309.9,311.9 312.4,313.5 314.7,315.2 316.8,316.9 318.8,318.8 320.5,320.7 322.0,322.7 323.3,324.7 324.4,326.8 325.3,328.9 326.0,331.1" fill="#ee5c0c" stroke="#a63e08" stroke-width="1.1" stroke-opacity="0.85"/>
<ellipse cx="187" cy="345.8" rx="10.25" ry="6.3" fill="url(#hwL)" transform="rotate(-8.3 187 345.8)"/>
<clipPath id="Lh0"><ellipse cx="187" cy="345.8" rx="10.25" ry="6.3" transform="rotate(-8.3 187 345.8)"/></clipPath>
<ellipse cx="187" cy="350.8" rx="10.25" ry="6.3" fill="#fff" transform="rotate(-8.3 187 350.8)" clip-path="url(#Lh0)"/>
<ellipse cx="192.9" cy="369.6" rx="10.25" ry="6.3" fill="url(#hwL)" transform="rotate(-8.3 192.9 369.6)"/>
<clipPath id="Lh1"><ellipse cx="192.9" cy="369.6" rx="10.25" ry="6.3" transform="rotate(-8.3 192.9 369.6)"/></clipPath>
<ellipse cx="192.9" cy="374.6" rx="10.25" ry="6.3" fill="#fff" transform="rotate(-8.3 192.9 374.6)" clip-path="url(#Lh1)"/>
<ellipse cx="229.8" cy="379.8" rx="10.25" ry="6.3" fill="url(#hwL)" transform="rotate(-8.3 229.8 379.8)"/>
<clipPath id="Lh2"><ellipse cx="229.8" cy="379.8" rx="10.25" ry="6.3" transform="rotate(-8.3 229.8 379.8)"/></clipPath>
<ellipse cx="229.8" cy="384.8" rx="10.25" ry="6.3" fill="#fff" transform="rotate(-8.3 229.8 384.8)" clip-path="url(#Lh2)"/>
<ellipse cx="276" cy="371.4" rx="10.25" ry="6.3" fill="url(#hwL)" transform="rotate(-8.3 276 371.4)"/>
<clipPath id="Lh3"><ellipse cx="276" cy="371.4" rx="10.25" ry="6.3" transform="rotate(-8.3 276 371.4)"/></clipPath>
<ellipse cx="276" cy="376.4" rx="10.25" ry="6.3" fill="#fff" transform="rotate(-8.3 276 376.4)" clip-path="url(#Lh3)"/>
<ellipse cx="304.6" cy="348.2" rx="10.25" ry="6.3" fill="url(#hwL)" transform="rotate(-8.3 304.6 348.2)"/>
<clipPath id="Lh4"><ellipse cx="304.6" cy="348.2" rx="10.25" ry="6.3" transform="rotate(-8.3 304.6 348.2)"/></clipPath>
<ellipse cx="304.6" cy="353.2" rx="10.25" ry="6.3" fill="#fff" transform="rotate(-8.3 304.6 353.2)" clip-path="url(#Lh4)"/>
<ellipse cx="298.6" cy="324.6" rx="10.25" ry="6.3" fill="url(#hwL)" transform="rotate(-8.3 298.6 324.6)"/>
<clipPath id="Lh5"><ellipse cx="298.6" cy="324.6" rx="10.25" ry="6.3" transform="rotate(-8.3 298.6 324.6)"/></clipPath>
<ellipse cx="298.6" cy="329.6" rx="10.25" ry="6.3" fill="#fff" transform="rotate(-8.3 298.6 329.6)" clip-path="url(#Lh5)"/>
<polygon points="278.8,340.8 278.9,341.4 286.2,341.7 286.0,343.3 278.6,344.8 278.4,345.3 278.2,345.9 284.8,347.1 283.9,348.7 276.4,349.3 276.0,349.8 275.6,350.4 281.1,352.5 279.5,354.0 272.3,353.6 271.7,354.1 271.0,354.6 275.2,357.5 273.0,358.9 266.5,357.5 265.7,357.9 264.9,358.4 267.4,361.8 264.8,362.9 259.4,360.7 258.5,361.1 257.6,361.4 258.2,365.2 255.3,366.0 251.4,363.1 250.4,363.3 249.4,363.5 248.2,367.5 245.1,368.0 242.9,364.5 241.9,364.6 240.8,364.6 237.9,368.6 234.9,368.6 234.4,364.8 233.4,364.7 232.5,364.7 228.0,368.3 225.1,368.0 226.5,364.0 225.6,363.8 224.7,363.6 218.9,366.8 216.4,366.0 219.6,362.1 218.8,361.8 218.1,361.5 211.3,364.0 209.3,362.9 214.0,359.3 213.5,359.0 212.9,358.6 205.5,360.2 204.2,358.9 210.2,355.8 209.8,355.3 209.5,354.8 202.0,355.5 201.4,354.0 208.3,351.7 208.2,351.2 208.1,350.6 200.8,350.3 201.0,348.7 208.4,347.2 208.6,346.7 208.8,346.1 202.2,344.9 203.1,343.3 210.6,342.7 211.0,342.2 211.4,341.6 205.9,339.5 207.5,338.0 214.7,338.4 215.3,337.9 216.0,337.4 211.8,334.5 214.0,333.1 220.5,334.5 221.3,334.1 222.1,333.6 219.6,330.2 222.2,329.1 227.6,331.3 228.5,330.9 229.4,330.6 228.8,326.8 231.7,326.0 235.6,328.9 236.6,328.7 237.6,328.5 238.8,324.5 241.9,324.0 244.1,327.5 245.1,327.4 246.2,327.4 249.1,323.4 252.1,323.4 252.6,327.2 253.6,327.3 254.5,327.3 259.0,323.7 261.9,324.0 260.5,328.0 261.4,328.2 262.3,328.4 268.1,325.2 270.6,326.0 267.4,329.9 268.2,330.2 268.9,330.5 275.7,328.0 277.7,329.1 273.0,332.7 273.5,333.0 274.1,333.4 281.5,331.8 282.8,333.1 276.8,336.2 277.2,336.7 277.5,337.2 285.0,336.5 285.6,338.0 278.7,340.3" fill="#6a2204" />
<polygon points="261.9,306.0 260.5,310.0 260.5,328.0 261.9,324.0" fill="#5b260a" stroke="#7a2806" stroke-width="0.3"/>
<polygon points="270.6,308.0 267.4,311.9 267.4,329.9 270.6,326.0" fill="#933d10" stroke="#7a2806" stroke-width="0.3"/>
<polygon points="229.4,312.6 228.8,308.8 228.8,326.8 229.4,330.6" fill="#3d1907" stroke="#7a2806" stroke-width="0.3"/>
<polygon points="277.7,311.1 273.0,314.7 273.0,332.7 277.7,329.1" fill="#bd4e15" stroke="#7a2806" stroke-width="0.3"/>
<polygon points="222.1,315.6 219.6,312.2 219.6,330.2 222.1,333.6" fill="#682b0b" stroke="#7a2806" stroke-width="0.3"/>
<polygon points="282.8,315.1 276.8,318.2 276.8,336.2 282.8,333.1" fill="#d75917" stroke="#7a2806" stroke-width="0.3"/>
<polygon points="216.0,319.4 211.8,316.5 211.8,334.5 216.0,337.4" fill="#a34312" stroke="#7a2806" stroke-width="0.3"/>
<polygon points="285.6,320.0 278.7,322.3 278.7,340.3 285.6,338.0" fill="#e65f19" stroke="#7a2806" stroke-width="0.3"/>
<polygon points="211.4,323.6 205.9,321.5 205.9,339.5 211.4,341.6" fill="#cb5416" stroke="#7a2806" stroke-width="0.3"/>
<polygon points="286.2,323.7 286.0,325.3 286.0,343.3 286.2,341.7" fill="#421b07" stroke="#7a2806" stroke-width="0.3"/>
<polygon points="286.0,325.3 278.6,326.8 278.6,344.8 286.0,343.3" fill="#ed621a" stroke="#7a2806" stroke-width="0.3"/>
<polygon points="278.6,326.8 278.4,327.3 278.4,345.3 278.6,344.8" fill="#542309" stroke="#7a2806" stroke-width="0.3"/>
<polygon points="278.4,327.3 278.2,327.9 278.2,345.9 278.4,345.3" fill="#5b250a" stroke="#7a2806" stroke-width="0.3"/>
<polygon points="208.8,328.1 202.2,326.9 202.2,344.9 208.8,346.1" fill="#e15d18" stroke="#7a2806" stroke-width="0.3"/>
<polygon points="284.8,329.1 283.9,330.7 283.9,348.7 284.8,347.1" fill="#74300d" stroke="#7a2806" stroke-width="0.3"/>
<polygon points="283.9,330.7 276.4,331.3 276.4,349.3 283.9,348.7" fill="#ef631a" stroke="#7a2806" stroke-width="0.3"/>
<polygon points="276.4,331.3 276.0,331.8 276.0,349.8 276.4,349.3" fill="#8d3a0f" stroke="#7a2806" stroke-width="0.3"/>
<polygon points="276.0,331.8 275.6,332.4 275.6,350.4 276.0,349.8" fill="#933d10" stroke="#7a2806" stroke-width="0.3"/>
<polygon points="208.1,332.6 200.8,332.3 200.8,350.3 208.1,350.6" fill="#ec611a" stroke="#7a2806" stroke-width="0.3"/>
<polygon points="208.2,333.2 208.1,332.6 208.1,350.6 208.2,351.2" fill="#3c1907" stroke="#7a2806" stroke-width="0.3"/>
<polygon points="208.3,333.7 208.2,333.2 208.2,351.2 208.3,351.7" fill="#3d1907" stroke="#7a2806" stroke-width="0.3"/>
<polygon points="281.1,334.5 279.5,336.0 279.5,354.0 281.1,352.5" fill="#a84512" stroke="#7a2806" stroke-width="0.3"/>
<polygon points="279.5,336.0 272.3,335.6 272.3,353.6 279.5,354.0" fill="#eb611a" stroke="#7a2806" stroke-width="0.3"/>
<polygon points="272.3,335.6 271.7,336.1 271.7,354.1 272.3,353.6" fill="#b94c14" stroke="#7a2806" stroke-width="0.3"/>
<polygon points="271.7,336.1 271.0,336.6 271.0,354.6 271.7,354.1" fill="#bd4e15" stroke="#7a2806" stroke-width="0.3"/>
<polygon points="209.8,337.3 209.5,336.8 209.5,354.8 209.8,355.3" fill="#60280a" stroke="#7a2806" stroke-width="0.3"/>
<polygon points="209.5,336.8 202.0,337.5 202.0,355.5 209.5,354.8" fill="#ef631a" stroke="#7a2806" stroke-width="0.3"/>
<polygon points="202.0,337.5 201.4,336.0 201.4,354.0 202.0,355.5" fill="#491e08" stroke="#7a2806" stroke-width="0.3"/>
<polygon points="210.2,337.8 209.8,337.3 209.8,355.3 210.2,355.8" fill="#682b0b" stroke="#7a2806" stroke-width="0.3"/>
<polygon points="266.5,339.5 265.7,339.9 265.7,357.9 266.5,357.5" fill="#d55817" stroke="#7a2806" stroke-width="0.3"/>
<polygon points="265.7,339.9 264.9,340.4 264.9,358.4 265.7,357.9" fill="#d75917" stroke="#7a2806" stroke-width="0.3"/>
<polygon points="275.2,339.5 273.0,340.9 273.0,358.9 275.2,357.5" fill="#ca5416" stroke="#7a2806" stroke-width="0.3"/>
<polygon points="273.0,340.9 266.5,339.5 266.5,357.5 273.0,358.9" fill="#df5c18" stroke="#7a2806" stroke-width="0.3"/>
<polygon points="213.5,341.0 212.9,340.6 212.9,358.6 213.5,359.0" fill="#9d4111" stroke="#7a2806" stroke-width="0.3"/>
<polygon points="214.0,341.3 213.5,341.0 213.5,359.0 214.0,359.3" fill="#a34312" stroke="#7a2806" stroke-width="0.3"/>
<polygon points="212.9,340.6 205.5,342.2 205.5,360.2 212.9,358.6" fill="#ed621a" stroke="#7a2806" stroke-width="0.3"/>
<polygon points="205.5,342.2 204.2,340.9 204.2,358.9 205.5,360.2" fill="#83360e" stroke="#7a2806" stroke-width="0.3"/>
<polygon points="259.4,342.7 258.5,343.1 258.5,361.1 259.4,360.7" fill="#e55e19" stroke="#7a2806" stroke-width="0.3"/>
<polygon points="258.5,343.1 257.6,343.4 257.6,361.4 258.5,361.1" fill="#e65f19" stroke="#7a2806" stroke-width="0.3"/>
<polygon points="218.8,343.8 218.1,343.5 218.1,361.5 218.8,361.8" fill="#c75216" stroke="#7a2806" stroke-width="0.3"/>
<polygon points="219.6,344.1 218.8,343.8 218.8,361.8 219.6,362.1" fill="#cb5416" stroke="#7a2806" stroke-width="0.3"/>
<polygon points="267.4,343.8 264.8,344.9 264.8,362.9 267.4,361.8" fill="#df5c18" stroke="#7a2806" stroke-width="0.3"/>
<polygon points="264.8,344.9 259.4,342.7 259.4,360.7 264.8,362.9" fill="#c75216" stroke="#7a2806" stroke-width="0.3"/>
<polygon points="251.4,345.1 250.4,345.3 250.4,363.3 251.4,363.1" fill="#ed621a" stroke="#7a2806" stroke-width="0.3"/>
<polygon points="250.4,345.3 249.4,345.5 249.4,363.5 250.4,363.3" fill="#ed621a" stroke="#7a2806" stroke-width="0.3"/>
<polygon points="225.6,345.8 224.7,345.6 224.7,363.6 225.6,363.8" fill="#df5c18" stroke="#7a2806" stroke-width="0.3"/>
<polygon points="226.5,346.0 225.6,345.8 225.6,363.8 226.5,364.0" fill="#e15d18" stroke="#7a2806" stroke-width="0.3"/>
<polygon points="218.1,343.5 211.3,346.0 211.3,364.0 218.1,361.5" fill="#e55e19" stroke="#7a2806" stroke-width="0.3"/>
<polygon points="211.3,346.0 209.3,344.9 209.3,362.9 211.3,364.0" fill="#b74c14" stroke="#7a2806" stroke-width="0.3"/>
<polygon points="242.9,346.5 241.9,346.6 241.9,364.6 242.9,364.5" fill="#ef631a" stroke="#7a2806" stroke-width="0.3"/>
<polygon points="241.9,346.6 240.8,346.6 240.8,364.6 241.9,364.6" fill="#ef631a" stroke="#7a2806" stroke-width="0.3"/>
<polygon points="233.4,346.7 232.5,346.7 232.5,364.7 233.4,364.7" fill="#eb611a" stroke="#7a2806" stroke-width="0.3"/>
<polygon points="234.4,346.8 233.4,346.7 233.4,364.7 234.4,364.8" fill="#ec611a" stroke="#7a2806" stroke-width="0.3"/>
<polygon points="258.2,347.2 255.3,348.0 255.3,366.0 258.2,365.2" fill="#ea6119" stroke="#7a2806" stroke-width="0.3"/>
<polygon points="255.3,348.0 251.4,345.1 251.4,363.1 255.3,366.0" fill="#9d4111" stroke="#7a2806" stroke-width="0.3"/>
<polygon points="224.7,345.6 218.9,348.8 218.9,366.8 224.7,363.6" fill="#d55817" stroke="#7a2806" stroke-width="0.3"/>
<polygon points="218.9,348.8 216.4,348.0 216.4,366.0 218.9,366.8" fill="#d65917" stroke="#7a2806" stroke-width="0.3"/>
<polygon points="249.4,345.5 248.2,349.5 248.2,367.5 249.4,363.5" fill="#542309" stroke="#7a2806" stroke-width="0.3"/>
<polygon points="248.2,349.5 245.1,350.0 245.1,368.0 248.2,367.5" fill="#ef631a" stroke="#7a2806" stroke-width="0.3"/>
<polygon points="245.1,350.0 242.9,346.5 242.9,364.5 245.1,368.0" fill="#60280a" stroke="#7a2806" stroke-width="0.3"/>
<polygon points="232.5,346.7 228.0,350.3 228.0,368.3 232.5,364.7" fill="#b94c14" stroke="#7a2806" stroke-width="0.3"/>
<polygon points="228.0,350.3 225.1,350.0 225.1,368.0 228.0,368.3" fill="#e75f19" stroke="#7a2806" stroke-width="0.3"/>
<polygon points="240.8,346.6 237.9,350.6 237.9,368.6 240.8,364.6" fill="#8c3a0f" stroke="#7a2806" stroke-width="0.3"/>
<polygon points="237.9,350.6 234.9,350.6 234.9,368.6 237.9,368.6" fill="#ee621a" stroke="#7a2806" stroke-width="0.3"/>
<polygon points="234.9,350.6 234.4,346.8 234.4,364.8 234.9,368.6" fill="#3c1907" stroke="#7a2806" stroke-width="0.3"/>
<polygon points="278.8,322.8 278.9,323.4 286.2,323.7 286.0,325.3 278.6,326.8 278.4,327.3 278.2,327.9 284.8,329.1 283.9,330.7 276.4,331.3 276.0,331.8 275.6,332.4 281.1,334.5 279.5,336.0 272.3,335.6 271.7,336.1 271.0,336.6 275.2,339.5 273.0,340.9 266.5,339.5 265.7,339.9 264.9,340.4 267.4,343.8 264.8,344.9 259.4,342.7 258.5,343.1 257.6,343.4 258.2,347.2 255.3,348.0 251.4,345.1 250.4,345.3 249.4,345.5 248.2,349.5 245.1,350.0 242.9,346.5 241.9,346.6 240.8,346.6 237.9,350.6 234.9,350.6 234.4,346.8 233.4,346.7 232.5,346.7 228.0,350.3 225.1,350.0 226.5,346.0 225.6,345.8 224.7,345.6 218.9,348.8 216.4,348.0 219.6,344.1 218.8,343.8 218.1,343.5 211.3,346.0 209.3,344.9 214.0,341.3 213.5,341.0 212.9,340.6 205.5,342.2 204.2,340.9 210.2,337.8 209.8,337.3 209.5,336.8 202.0,337.5 201.4,336.0 208.3,333.7 208.2,333.2 208.1,332.6 200.8,332.3 201.0,330.7 208.4,329.2 208.6,328.7 208.8,328.1 202.2,326.9 203.1,325.3 210.6,324.7 211.0,324.2 211.4,323.6 205.9,321.5 207.5,320.0 214.7,320.4 215.3,319.9 216.0,319.4 211.8,316.5 214.0,315.1 220.5,316.5 221.3,316.1 222.1,315.6 219.6,312.2 222.2,311.1 227.6,313.3 228.5,312.9 229.4,312.6 228.8,308.8 231.7,308.0 235.6,310.9 236.6,310.7 237.6,310.5 238.8,306.5 241.9,306.0 244.1,309.5 245.1,309.4 246.2,309.4 249.1,305.4 252.1,305.4 252.6,309.2 253.6,309.3 254.5,309.3 259.0,305.7 261.9,306.0 260.5,310.0 261.4,310.2 262.3,310.4 268.1,307.2 270.6,308.0 267.4,311.9 268.2,312.2 268.9,312.5 275.7,310.0 277.7,311.1 273.0,314.7 273.5,315.0 274.1,315.4 281.5,313.8 282.8,315.1 276.8,318.2 277.2,318.7 277.5,319.2 285.0,318.5 285.6,320.0 278.7,322.3" fill="#dc600e" stroke="#a03c08" stroke-width="0.6"/>
<ellipse cx="242" cy="330" rx="34.5" ry="18.5" fill="url(#hubL)" transform="rotate(-11 242 330)"/>
<polygon points="631.2,340.8 631.3,341.4 639.1,341.2 639.2,342.4 631.5,344.1 631.5,344.8 631.4,345.3 639.1,345.6 639.0,346.7 631.1,348.1 631.0,348.7 630.9,349.3 638.3,350.0 638.0,351.1 630.1,352.1 629.8,352.7 629.6,353.3 636.8,354.4 636.3,355.5 628.4,356.1 628.0,356.8 627.7,357.3 634.5,358.8 633.8,359.9 626.0,360.1 625.5,360.7 625.1,361.3 631.6,363.1 630.7,364.2 623.0,364.0 622.4,364.6 621.9,365.2 627.9,367.3 626.8,368.4 619.3,367.8 618.7,368.4 618.1,368.9 623.6,371.5 622.3,372.5 615.1,371.5 614.4,372.1 613.7,372.6 618.6,375.4 617.2,376.4 610.3,375.0 609.5,375.5 608.8,376.0 613.1,379.1 611.5,380.1 605.1,378.3 604.2,378.8 603.4,379.2 607.0,382.7 605.4,383.5 599.3,381.4 598.4,381.8 597.5,382.3 600.5,385.9 598.7,386.7 593.2,384.2 592.2,384.6 591.3,385.0 593.5,388.8 591.7,389.6 586.7,386.7 585.7,387.1 584.7,387.5 586.2,391.5 584.3,392.1 579.9,389.0 578.8,389.3 577.9,389.6 578.6,393.8 576.6,394.3 572.9,390.9 571.8,391.2 570.8,391.4 570.8,395.7 568.7,396.1 565.7,392.5 564.6,392.7 563.6,392.9 562.8,397.2 560.7,397.6 558.4,393.7 557.3,393.9 556.2,394.0 554.8,398.4 552.7,398.6 551.1,394.6 549.9,394.7 548.9,394.8 546.7,399.1 544.6,399.2 543.7,395.1 542.6,395.1 541.5,395.2 538.7,399.4 536.6,399.5 536.5,395.2 535.3,395.2 534.3,395.2 530.8,399.4 528.7,399.3 529.4,395.0 528.3,394.9 527.3,394.8 523.1,398.9 521.1,398.7 522.5,394.3 521.4,394.2 520.4,394.1 515.6,398.0 513.7,397.7 515.8,393.3 514.8,393.1 513.9,393.0 508.5,396.7 506.7,396.3 509.5,392.0 508.5,391.7 507.7,391.5 501.8,395.0 500.1,394.5 503.6,390.3 502.7,390.0 501.9,389.7 495.5,392.9 494.0,392.3 498.1,388.2 497.3,387.9 496.6,387.6 489.7,390.5 488.3,389.8 493.1,385.9 492.3,385.5 491.7,385.1 484.5,387.7 483.3,387.0 488.6,383.2 487.9,382.8 487.4,382.4 479.9,384.7 478.8,383.8 484.7,380.3 484.1,379.8 483.6,379.4 476.0,381.3 475.0,380.4 481.4,377.2 480.9,376.6 480.5,376.2 472.7,377.7 471.9,376.7 478.7,373.8 478.3,373.2 478.0,372.7 470.1,373.9 469.5,372.8 476.7,370.2 476.4,369.6 476.2,369.1 468.2,369.9 467.9,368.8 475.3,366.5 475.1,365.9 475.0,365.3 467.1,365.7 467.0,364.6 474.6,362.6 474.6,362.0 474.5,361.5 466.8,361.4 466.8,360.3 474.6,358.7 474.7,358.1 474.8,357.5 467.2,357.0 467.4,355.9 475.3,354.7 475.5,354.1 475.7,353.5 468.3,352.6 468.8,351.5 476.7,350.7 477.0,350.0 477.2,349.5 470.2,348.2 470.8,347.1 478.7,346.7 479.1,346.1 479.5,345.5 472.9,343.9 473.7,342.7 481.5,342.7 481.9,342.1 482.4,341.6 476.2,339.6 477.2,338.5 484.8,338.9 485.4,338.3 485.9,337.7 480.2,335.4 481.4,334.3 488.7,335.1 489.4,334.5 490.0,334.0 484.9,331.3 486.2,330.3 493.2,331.5 494.0,331.0 494.7,330.5 490.1,327.5 491.6,326.5 498.2,328.1 499.1,327.6 499.8,327.1 495.9,323.9 497.5,323.0 503.7,324.9 504.7,324.4 505.5,324.0 502.2,320.5 503.9,319.7 509.7,322.0 510.7,321.5 511.5,321.1 508.9,317.4 510.8,316.6 516.0,319.3 517.0,318.9 517.9,318.5 516.1,314.6 518.0,313.9 522.6,316.9 523.7,316.5 524.7,316.2 523.5,312.1 525.5,311.6 529.5,314.8 530.7,314.5 531.7,314.2 531.3,310.0 533.3,309.6 536.7,313.1 537.8,312.8 538.8,312.6 539.2,308.3 541.2,307.9 543.9,311.6 545.1,311.5 546.1,311.3 547.2,307.0 549.3,306.7 551.2,310.6 552.4,310.5 553.5,310.3 555.3,306.0 557.4,305.8 558.6,309.9 559.8,309.8 560.8,309.8 563.3,305.5 565.4,305.4 565.9,309.6 567.1,309.6 568.1,309.6 571.3,305.4 573.4,305.4 573.1,309.7 574.2,309.7 575.2,309.8 579.1,305.6 581.1,305.8 580.1,310.1 581.2,310.2 582.2,310.3 586.7,306.3 588.6,306.6 586.9,310.9 587.9,311.1 588.9,311.2 594.0,307.4 595.8,307.8 593.4,312.1 594.4,312.3 595.2,312.5 600.9,308.9 602.6,309.4 599.5,313.6 600.4,313.9 601.2,314.2 607.4,310.8 609.0,311.4 605.2,315.5 606.1,315.8 606.8,316.1 613.4,313.1 614.9,313.7 610.5,317.7 611.3,318.1 611.9,318.4 618.9,315.7 620.3,316.4 615.2,320.2 615.9,320.6 616.5,321.0 623.8,318.6 625.0,319.4 619.4,323.0 620.0,323.5 620.6,323.9 628.1,321.8 629.1,322.7 623.0,326.0 623.6,326.5 624.0,327.0 631.8,325.3 632.6,326.2 626.0,329.3 626.5,329.9 626.8,330.3 634.7,329.0 635.4,330.0 628.4,332.8 628.7,333.4 629.0,333.9 636.9,332.9 637.4,334.0 630.1,336.4 630.3,337.0 630.5,337.6 638.4,337.0 638.7,338.1 631.1,340.2" fill="#06504a" />
<polygon points="573.4,298.4 573.1,302.7 573.1,309.7 573.4,305.4" fill="#0a4234" stroke="#0a6050" stroke-width="0.3"/>
<polygon points="581.1,298.8 580.1,303.1 580.1,310.1 581.1,305.8" fill="#0c4d3d" stroke="#0a6050" stroke-width="0.3"/>
<polygon points="588.6,299.6 586.9,303.9 586.9,310.9 588.6,306.6" fill="#0e5d4a" stroke="#0a6050" stroke-width="0.3"/>
<polygon points="595.8,300.8 593.4,305.1 593.4,312.1 595.8,307.8" fill="#116e57" stroke="#0a6050" stroke-width="0.3"/>
<polygon points="602.6,302.4 599.5,306.6 599.5,313.6 602.6,309.4" fill="#137e64" stroke="#0a6050" stroke-width="0.3"/>
<polygon points="531.7,307.2 531.3,303.0 531.3,310.0 531.7,314.2" fill="#0a3e32" stroke="#0a6050" stroke-width="0.3"/>
<polygon points="609.0,304.4 605.2,308.5 605.2,315.5 609.0,311.4" fill="#168d70" stroke="#0a6050" stroke-width="0.3"/>
<polygon points="524.7,309.2 523.5,305.1 523.5,312.1 524.7,316.2" fill="#0a4235" stroke="#0a6050" stroke-width="0.3"/>
<polygon points="614.9,306.7 610.5,310.7 610.5,317.7 614.9,313.7" fill="#189a7a" stroke="#0a6050" stroke-width="0.3"/>
<polygon points="517.9,311.5 516.1,307.6 516.1,314.6 517.9,318.5" fill="#0c4e3e" stroke="#0a6050" stroke-width="0.3"/>
<polygon points="620.3,309.4 615.2,313.2 615.2,320.2 620.3,316.4" fill="#19a583" stroke="#0a6050" stroke-width="0.3"/>
<polygon points="511.5,314.1 508.9,310.4 508.9,317.4 511.5,321.1" fill="#0f5f4c" stroke="#0a6050" stroke-width="0.3"/>
<polygon points="625.0,312.4 619.4,316.0 619.4,323.0 625.0,319.4" fill="#1bae8a" stroke="#0a6050" stroke-width="0.3"/>
<polygon points="505.5,317.0 502.2,313.5 502.2,320.5 505.5,324.0" fill="#11725a" stroke="#0a6050" stroke-width="0.3"/>
<polygon points="629.1,315.7 623.0,319.0 623.0,326.0 629.1,322.7" fill="#1cb590" stroke="#0a6050" stroke-width="0.3"/>
<polygon points="499.8,320.1 495.9,316.9 495.9,323.9 499.8,327.1" fill="#148368" stroke="#0a6050" stroke-width="0.3"/>
<polygon points="632.6,319.2 626.0,322.3 626.0,329.3 632.6,326.2" fill="#1dbb95" stroke="#0a6050" stroke-width="0.3"/>
<polygon points="494.7,323.5 490.1,320.5 490.1,327.5 494.7,330.5" fill="#179375" stroke="#0a6050" stroke-width="0.3"/>
<polygon points="635.4,323.0 628.4,325.8 628.4,332.8 635.4,330.0" fill="#1ec099" stroke="#0a6050" stroke-width="0.3"/>
<polygon points="490.0,327.0 484.9,324.3 484.9,331.3 490.0,334.0" fill="#19a180" stroke="#0a6050" stroke-width="0.3"/>
<polygon points="637.4,327.0 630.1,329.4 630.1,336.4 637.4,334.0" fill="#1ec49c" stroke="#0a6050" stroke-width="0.3"/>
<polygon points="485.9,330.7 480.2,328.4 480.2,335.4 485.9,337.7" fill="#1aab88" stroke="#0a6050" stroke-width="0.3"/>
<polygon points="638.7,331.1 631.1,333.2 631.1,340.2 638.7,338.1" fill="#1fc79e" stroke="#0a6050" stroke-width="0.3"/>
<polygon points="482.4,334.6 476.2,332.6 476.2,339.6 482.4,341.6" fill="#1cb48f" stroke="#0a6050" stroke-width="0.3"/>
<polygon points="639.2,335.4 631.5,337.1 631.5,344.1 639.2,342.4" fill="#1fc99f" stroke="#0a6050" stroke-width="0.3"/>
<polygon points="631.5,337.1 631.5,337.8 631.5,344.8 631.5,344.1" fill="#0a4033" stroke="#0a6050" stroke-width="0.3"/>
<polygon points="631.5,337.8 631.4,338.3 631.4,345.3 631.5,344.8" fill="#0a4134" stroke="#0a6050" stroke-width="0.3"/>
<polygon points="479.5,338.5 472.9,336.9 472.9,343.9 479.5,345.5" fill="#1dbb95" stroke="#0a6050" stroke-width="0.3"/>
<polygon points="639.1,338.6 639.0,339.7 639.0,346.7 639.1,345.6" fill="#0b4537" stroke="#0a6050" stroke-width="0.3"/>
<polygon points="639.0,339.7 631.1,341.1 631.1,348.1 639.0,346.7" fill="#1fcaa1" stroke="#0a6050" stroke-width="0.3"/>
<polygon points="631.1,341.1 631.0,341.7 631.0,348.7 631.1,348.1" fill="#0b4a3a" stroke="#0a6050" stroke-width="0.3"/>
<polygon points="631.0,341.7 630.9,342.3 630.9,349.3 631.0,348.7" fill="#0c4c3c" stroke="#0a6050" stroke-width="0.3"/>
<polygon points="477.2,342.5 470.2,341.2 470.2,348.2 477.2,349.5" fill="#1ec099" stroke="#0a6050" stroke-width="0.3"/>
<polygon points="638.3,343.0 638.0,344.1 638.0,351.1 638.3,350.0" fill="#0d5141" stroke="#0a6050" stroke-width="0.3"/>
<polygon points="638.0,344.1 630.1,345.1 630.1,352.1 638.0,351.1" fill="#1fcba1" stroke="#0a6050" stroke-width="0.3"/>
<polygon points="630.1,345.1 629.8,345.7 629.8,352.7 630.1,352.1" fill="#0e5846" stroke="#0a6050" stroke-width="0.3"/>
<polygon points="629.8,345.7 629.6,346.3 629.6,353.3 629.8,352.7" fill="#0e5b48" stroke="#0a6050" stroke-width="0.3"/>
<polygon points="475.7,346.5 468.3,345.6 468.3,352.6 475.7,353.5" fill="#1ec49c" stroke="#0a6050" stroke-width="0.3"/>
<polygon points="636.8,347.4 636.3,348.5 636.3,355.5 636.8,354.4" fill="#0f624e" stroke="#0a6050" stroke-width="0.3"/>
<polygon points="636.3,348.5 628.4,349.1 628.4,356.1 636.3,355.5" fill="#1fcba1" stroke="#0a6050" stroke-width="0.3"/>
<polygon points="628.4,349.1 628.0,349.8 628.0,356.8 628.4,356.1" fill="#106954" stroke="#0a6050" stroke-width="0.3"/>
<polygon points="628.0,349.8 627.7,350.3 627.7,357.3 628.0,356.8" fill="#116c56" stroke="#0a6050" stroke-width="0.3"/>
<polygon points="474.8,350.5 467.2,350.0 467.2,357.0 474.8,357.5" fill="#1fc79e" stroke="#0a6050" stroke-width="0.3"/>
<polygon points="634.5,351.8 633.8,352.9 633.8,359.9 634.5,358.8" fill="#12735b" stroke="#0a6050" stroke-width="0.3"/>
<polygon points="633.8,352.9 626.0,353.1 626.0,360.1 633.8,359.9" fill="#1fcaa1" stroke="#0a6050" stroke-width="0.3"/>
<polygon points="626.0,353.1 625.5,353.7 625.5,360.7 626.0,360.1" fill="#137a61" stroke="#0a6050" stroke-width="0.3"/>
<polygon points="625.5,353.7 625.1,354.3 625.1,361.3 625.5,360.7" fill="#137c63" stroke="#0a6050" stroke-width="0.3"/>
<polygon points="466.8,354.4 466.8,353.3 466.8,360.3 466.8,361.4" fill="#0a3e32" stroke="#0a6050" stroke-width="0.3"/>
<polygon points="474.5,354.5 466.8,354.4 466.8,361.4 474.5,361.5" fill="#1fc9a0" stroke="#0a6050" stroke-width="0.3"/>
<polygon points="474.6,355.0 474.5,354.5 474.5,361.5 474.6,362.0" fill="#0a3e32" stroke="#0a6050" stroke-width="0.3"/>
<polygon points="474.6,355.6 474.6,355.0 474.6,362.0 474.6,362.6" fill="#0a3e32" stroke="#0a6050" stroke-width="0.3"/>
<polygon points="631.6,356.1 630.7,357.2 630.7,364.2 631.6,363.1" fill="#148368" stroke="#0a6050" stroke-width="0.3"/>
<polygon points="630.7,357.2 623.0,357.0 623.0,364.0 630.7,364.2" fill="#1fc99f" stroke="#0a6050" stroke-width="0.3"/>
<polygon points="623.0,357.0 622.4,357.6 622.4,364.6 623.0,364.0" fill="#15896d" stroke="#0a6050" stroke-width="0.3"/>
<polygon points="622.4,357.6 621.9,358.2 621.9,365.2 622.4,364.6" fill="#158c6f" stroke="#0a6050" stroke-width="0.3"/>
<polygon points="475.0,358.3 467.1,358.7 467.1,365.7 475.0,365.3" fill="#1fcaa1" stroke="#0a6050" stroke-width="0.3"/>
<polygon points="467.1,358.7 467.0,357.6 467.0,364.6 467.1,365.7" fill="#0a3f32" stroke="#0a6050" stroke-width="0.3"/>
<polygon points="475.1,358.9 475.0,358.3 475.0,365.3 475.1,365.9" fill="#0a4133" stroke="#0a6050" stroke-width="0.3"/>
<polygon points="475.3,359.5 475.1,358.9 475.1,365.9 475.3,366.5" fill="#0a4234" stroke="#0a6050" stroke-width="0.3"/>
<polygon points="619.3,360.8 618.7,361.4 618.7,368.4 619.3,367.8" fill="#179778" stroke="#0a6050" stroke-width="0.3"/>
<polygon points="627.9,360.3 626.8,361.4 626.8,368.4 627.9,367.3" fill="#169174" stroke="#0a6050" stroke-width="0.3"/>
<polygon points="626.8,361.4 619.3,360.8 619.3,367.8 626.8,368.4" fill="#1ec69e" stroke="#0a6050" stroke-width="0.3"/>
<polygon points="618.7,361.4 618.1,361.9 618.1,368.9 618.7,368.4" fill="#179979" stroke="#0a6050" stroke-width="0.3"/>
<polygon points="476.4,362.6 476.2,362.1 476.2,369.1 476.4,369.6" fill="#0b4a3b" stroke="#0a6050" stroke-width="0.3"/>
<polygon points="476.2,362.1 468.2,362.9 468.2,369.9 476.2,369.1" fill="#1fcba1" stroke="#0a6050" stroke-width="0.3"/>
<polygon points="468.2,362.9 467.9,361.8 467.9,368.8 468.2,369.9" fill="#0b4537" stroke="#0a6050" stroke-width="0.3"/>
<polygon points="476.7,363.2 476.4,362.6 476.4,369.6 476.7,370.2" fill="#0c4c3d" stroke="#0a6050" stroke-width="0.3"/>
<polygon points="615.1,364.5 614.4,365.1 614.4,372.1 615.1,371.5" fill="#19a281" stroke="#0a6050" stroke-width="0.3"/>
<polygon points="623.6,364.5 622.3,365.5 622.3,372.5 623.6,371.5" fill="#189e7d" stroke="#0a6050" stroke-width="0.3"/>
<polygon points="622.3,365.5 615.1,364.5 615.1,371.5 622.3,372.5" fill="#1ec39b" stroke="#0a6050" stroke-width="0.3"/>
<polygon points="614.4,365.1 613.7,365.6 613.7,372.6 614.4,372.1" fill="#19a482" stroke="#0a6050" stroke-width="0.3"/>
<polygon points="478.3,366.2 478.0,365.7 478.0,372.7 478.3,373.2" fill="#0e5a48" stroke="#0a6050" stroke-width="0.3"/>
<polygon points="478.7,366.8 478.3,366.2 478.3,373.2 478.7,373.8" fill="#0e5d4a" stroke="#0a6050" stroke-width="0.3"/>
<polygon points="478.0,365.7 470.1,366.9 470.1,373.9 478.0,372.7" fill="#1fcba1" stroke="#0a6050" stroke-width="0.3"/>
<polygon points="470.1,366.9 469.5,365.8 469.5,372.8 470.1,373.9" fill="#0d5342" stroke="#0a6050" stroke-width="0.3"/>
<polygon points="610.3,368.0 609.5,368.5 609.5,375.5 610.3,375.0" fill="#1aac88" stroke="#0a6050" stroke-width="0.3"/>
<polygon points="609.5,368.5 608.8,369.0 608.8,376.0 609.5,375.5" fill="#1bad89" stroke="#0a6050" stroke-width="0.3"/>
<polygon points="618.6,368.4 617.2,369.4 617.2,376.4 618.6,375.4" fill="#1aa885" stroke="#0a6050" stroke-width="0.3"/>
<polygon points="617.2,369.4 610.3,368.0 610.3,375.0 617.2,376.4" fill="#1dbe97" stroke="#0a6050" stroke-width="0.3"/>
<polygon points="480.9,369.6 480.5,369.2 480.5,376.2 480.9,376.6" fill="#116d56" stroke="#0a6050" stroke-width="0.3"/>
<polygon points="481.4,370.2 480.9,369.6 480.9,376.6 481.4,377.2" fill="#116f58" stroke="#0a6050" stroke-width="0.3"/>
<polygon points="480.5,369.2 472.7,370.7 472.7,377.7 480.5,376.2" fill="#1fcaa0" stroke="#0a6050" stroke-width="0.3"/>
<polygon points="472.7,370.7 471.9,369.7 471.9,376.7 472.7,377.7" fill="#0f6550" stroke="#0a6050" stroke-width="0.3"/>
<polygon points="605.1,371.3 604.2,371.8 604.2,378.8 605.1,378.3" fill="#1cb38f" stroke="#0a6050" stroke-width="0.3"/>
<polygon points="604.2,371.8 603.4,372.2 603.4,379.2 604.2,378.8" fill="#1cb48f" stroke="#0a6050" stroke-width="0.3"/>
<polygon points="484.1,372.8 483.6,372.4 483.6,379.4 484.1,379.8" fill="#137f65" stroke="#0a6050" stroke-width="0.3"/>
<polygon points="613.1,372.1 611.5,373.1 611.5,380.1 613.1,379.1" fill="#1bb08c" stroke="#0a6050" stroke-width="0.3"/>
<polygon points="611.5,373.1 605.1,371.3 605.1,378.3 611.5,380.1" fill="#1cb993" stroke="#0a6050" stroke-width="0.3"/>
<polygon points="484.7,373.3 484.1,372.8 484.1,379.8 484.7,380.3" fill="#148167" stroke="#0a6050" stroke-width="0.3"/>
<polygon points="483.6,372.4 476.0,374.3 476.0,381.3 483.6,379.4" fill="#1fc89f" stroke="#0a6050" stroke-width="0.3"/>
<polygon points="476.0,374.3 475.0,373.4 475.0,380.4 476.0,381.3" fill="#12775f" stroke="#0a6050" stroke-width="0.3"/>
<polygon points="599.3,374.4 598.4,374.8 598.4,381.8 599.3,381.4" fill="#1dba94" stroke="#0a6050" stroke-width="0.3"/>
<polygon points="598.4,374.8 597.5,375.3 597.5,382.3 598.4,381.8" fill="#1dbb94" stroke="#0a6050" stroke-width="0.3"/>
<polygon points="487.9,375.8 487.4,375.4 487.4,382.4 487.9,382.8" fill="#168f72" stroke="#0a6050" stroke-width="0.3"/>
<polygon points="488.6,376.2 487.9,375.8 487.9,382.8 488.6,383.2" fill="#169174" stroke="#0a6050" stroke-width="0.3"/>
<polygon points="607.0,375.7 605.4,376.5 605.4,383.5 607.0,382.7" fill="#1cb792" stroke="#0a6050" stroke-width="0.3"/>
<polygon points="605.4,376.5 599.3,374.4 599.3,381.4 605.4,383.5" fill="#1bb18d" stroke="#0a6050" stroke-width="0.3"/>
<polygon points="593.2,377.2 592.2,377.6 592.2,384.6 593.2,384.2" fill="#1dbf98" stroke="#0a6050" stroke-width="0.3"/>
<polygon points="487.4,375.4 479.9,377.7 479.9,384.7 487.4,382.4" fill="#1ec69d" stroke="#0a6050" stroke-width="0.3"/>
<polygon points="479.9,377.7 478.8,376.8 478.8,383.8 479.9,384.7" fill="#15896d" stroke="#0a6050" stroke-width="0.3"/>
<polygon points="592.2,377.6 591.3,378.0 591.3,385.0 592.2,384.6" fill="#1dbf98" stroke="#0a6050" stroke-width="0.3"/>
<polygon points="492.3,378.5 491.7,378.1 491.7,385.1 492.3,385.5" fill="#189d7d" stroke="#0a6050" stroke-width="0.3"/>
<polygon points="493.1,378.9 492.3,378.5 492.3,385.5 493.1,385.9" fill="#189f7e" stroke="#0a6050" stroke-width="0.3"/>
<polygon points="600.5,378.9 598.7,379.7 598.7,386.7 600.5,385.9" fill="#1dbd96" stroke="#0a6050" stroke-width="0.3"/>
<polygon points="598.7,379.7 593.2,377.2 593.2,384.2 598.7,386.7" fill="#1aa785" stroke="#0a6050" stroke-width="0.3"/>
<polygon points="586.7,379.7 585.7,380.1 585.7,387.1 586.7,386.7" fill="#1ec39b" stroke="#0a6050" stroke-width="0.3"/>
<polygon points="585.7,380.1 584.7,380.5 584.7,387.5 585.7,387.1" fill="#1ec39b" stroke="#0a6050" stroke-width="0.3"/>
<polygon points="491.7,378.1 484.5,380.7 484.5,387.7 491.7,385.1" fill="#1ec29a" stroke="#0a6050" stroke-width="0.3"/>
<polygon points="484.5,380.7 483.3,380.0 483.3,387.0 484.5,387.7" fill="#179878" stroke="#0a6050" stroke-width="0.3"/>
<polygon points="497.3,380.9 496.6,380.6 496.6,387.6 497.3,387.9" fill="#1aa986" stroke="#0a6050" stroke-width="0.3"/>
<polygon points="498.1,381.2 497.3,380.9 497.3,387.9 498.1,388.2" fill="#1aaa87" stroke="#0a6050" stroke-width="0.3"/>
<polygon points="579.9,382.0 578.8,382.3 578.8,389.3 579.9,389.0" fill="#1ec69d" stroke="#0a6050" stroke-width="0.3"/>
<polygon points="593.5,381.8 591.7,382.6 591.7,389.6 593.5,388.8" fill="#1ec19a" stroke="#0a6050" stroke-width="0.3"/>
<polygon points="591.7,382.6 586.7,379.7 586.7,386.7 591.7,389.6" fill="#189c7c" stroke="#0a6050" stroke-width="0.3"/>
<polygon points="578.8,382.3 577.9,382.6 577.9,389.6 578.8,389.3" fill="#1fc69e" stroke="#0a6050" stroke-width="0.3"/>
<polygon points="502.7,383.0 501.9,382.7 501.9,389.7 502.7,390.0" fill="#1bb28d" stroke="#0a6050" stroke-width="0.3"/>
<polygon points="503.6,383.3 502.7,383.0 502.7,390.0 503.6,390.3" fill="#1cb38e" stroke="#0a6050" stroke-width="0.3"/>
<polygon points="496.6,380.6 489.7,383.5 489.7,390.5 496.6,387.6" fill="#1dbe97" stroke="#0a6050" stroke-width="0.3"/>
<polygon points="489.7,383.5 488.3,382.8 488.3,389.8 489.7,390.5" fill="#19a482" stroke="#0a6050" stroke-width="0.3"/>
<polygon points="572.9,383.9 571.8,384.2 571.8,391.2 572.9,390.9" fill="#1fc89f" stroke="#0a6050" stroke-width="0.3"/>
<polygon points="571.8,384.2 570.8,384.4 570.8,391.4 571.8,391.2" fill="#1fc89f" stroke="#0a6050" stroke-width="0.3"/>
<polygon points="508.5,384.7 507.7,384.5 507.7,391.5 508.5,391.7" fill="#1db993" stroke="#0a6050" stroke-width="0.3"/>
<polygon points="509.5,385.0 508.5,384.7 508.5,391.7 509.5,392.0" fill="#1dba94" stroke="#0a6050" stroke-width="0.3"/>
<polygon points="586.2,384.5 584.3,385.1 584.3,392.1 586.2,391.5" fill="#1ec59c" stroke="#0a6050" stroke-width="0.3"/>
<polygon points="584.3,385.1 579.9,382.0 579.9,389.0 584.3,392.1" fill="#168d70" stroke="#0a6050" stroke-width="0.3"/>
<polygon points="565.7,385.5 564.6,385.7 564.6,392.7 565.7,392.5" fill="#1fcaa0" stroke="#0a6050" stroke-width="0.3"/>
<polygon points="501.9,382.7 495.5,385.9 495.5,392.9 501.9,389.7" fill="#1cb993" stroke="#0a6050" stroke-width="0.3"/>
<polygon points="495.5,385.9 494.0,385.3 494.0,392.3 495.5,392.9" fill="#1bae8b" stroke="#0a6050" stroke-width="0.3"/>
<polygon points="564.6,385.7 563.6,385.9 563.6,392.9 564.6,392.7" fill="#1fcaa0" stroke="#0a6050" stroke-width="0.3"/>
<polygon points="514.8,386.1 513.9,386.0 513.9,393.0 514.8,393.1" fill="#1dbf98" stroke="#0a6050" stroke-width="0.3"/>
<polygon points="515.8,386.3 514.8,386.1 514.8,393.1 515.8,393.3" fill="#1dc098" stroke="#0a6050" stroke-width="0.3"/>
<polygon points="558.4,386.7 557.3,386.9 557.3,393.9 558.4,393.7" fill="#1fcba1" stroke="#0a6050" stroke-width="0.3"/>
<polygon points="557.3,386.9 556.2,387.0 556.2,394.0 557.3,393.9" fill="#1fcba1" stroke="#0a6050" stroke-width="0.3"/>
<polygon points="521.4,387.2 520.4,387.1 520.4,394.1 521.4,394.2" fill="#1ec39b" stroke="#0a6050" stroke-width="0.3"/>
<polygon points="578.6,386.8 576.6,387.3 576.6,394.3 578.6,393.8" fill="#1fc79e" stroke="#0a6050" stroke-width="0.3"/>
<polygon points="576.6,387.3 572.9,383.9 572.9,390.9 576.6,394.3" fill="#137d63" stroke="#0a6050" stroke-width="0.3"/>
<polygon points="522.5,387.3 521.4,387.2 521.4,394.2 522.5,394.3" fill="#1ec49c" stroke="#0a6050" stroke-width="0.3"/>
<polygon points="551.1,387.6 549.9,387.7 549.9,394.7 551.1,394.6" fill="#1fcba1" stroke="#0a6050" stroke-width="0.3"/>
<polygon points="549.9,387.7 548.9,387.8 548.9,394.8 549.9,394.7" fill="#1fcba1" stroke="#0a6050" stroke-width="0.3"/>
<polygon points="528.3,387.9 527.3,387.8 527.3,394.8 528.3,394.9" fill="#1fc79e" stroke="#0a6050" stroke-width="0.3"/>
<polygon points="529.4,388.0 528.3,387.9 528.3,394.9 529.4,395.0" fill="#1fc79e" stroke="#0a6050" stroke-width="0.3"/>
<polygon points="507.7,384.5 501.8,388.0 501.8,395.0 507.7,391.5" fill="#1bb38e" stroke="#0a6050" stroke-width="0.3"/>
<polygon points="501.8,388.0 500.1,387.5 500.1,394.5 501.8,395.0" fill="#1cb691" stroke="#0a6050" stroke-width="0.3"/>
<polygon points="543.7,388.1 542.6,388.1 542.6,395.1 543.7,395.1" fill="#1fcaa1" stroke="#0a6050" stroke-width="0.3"/>
<polygon points="542.6,388.1 541.5,388.2 541.5,395.2 542.6,395.1" fill="#1fcaa1" stroke="#0a6050" stroke-width="0.3"/>
<polygon points="535.3,388.2 534.3,388.2 534.3,395.2 535.3,395.2" fill="#1fc9a0" stroke="#0a6050" stroke-width="0.3"/>
<polygon points="536.5,388.2 535.3,388.2 535.3,395.2 536.5,395.2" fill="#1fc9a0" stroke="#0a6050" stroke-width="0.3"/>
<polygon points="570.8,384.4 570.8,388.7 570.8,395.7 570.8,391.4" fill="#0a4033" stroke="#0a6050" stroke-width="0.3"/>
<polygon points="570.8,388.7 568.7,389.1 568.7,396.1 570.8,395.7" fill="#1fc9a0" stroke="#0a6050" stroke-width="0.3"/>
<polygon points="568.7,389.1 565.7,385.5 565.7,392.5 568.7,396.1" fill="#106a55" stroke="#0a6050" stroke-width="0.3"/>
<polygon points="513.9,386.0 508.5,389.7 508.5,396.7 513.9,393.0" fill="#1aab88" stroke="#0a6050" stroke-width="0.3"/>
<polygon points="508.5,389.7 506.7,389.3 506.7,396.3 508.5,396.7" fill="#1dbd96" stroke="#0a6050" stroke-width="0.3"/>
<polygon points="563.6,385.9 562.8,390.2 562.8,397.2 563.6,392.9" fill="#0b4839" stroke="#0a6050" stroke-width="0.3"/>
<polygon points="562.8,390.2 560.7,390.6 560.7,397.6 562.8,397.2" fill="#1fcaa1" stroke="#0a6050" stroke-width="0.3"/>
<polygon points="560.7,390.6 558.4,386.7 558.4,393.7 560.7,397.6" fill="#0e5846" stroke="#0a6050" stroke-width="0.3"/>
<polygon points="520.4,387.1 515.6,391.0 515.6,398.0 520.4,394.1" fill="#19a180" stroke="#0a6050" stroke-width="0.3"/>
<polygon points="515.6,391.0 513.7,390.7 513.7,397.7 515.6,398.0" fill="#1ec29a" stroke="#0a6050" stroke-width="0.3"/>
<polygon points="556.2,387.0 554.8,391.4 554.8,398.4 556.2,394.0" fill="#0d5645" stroke="#0a6050" stroke-width="0.3"/>
<polygon points="554.8,391.4 552.7,391.6 552.7,398.6 554.8,398.4" fill="#1fcba1" stroke="#0a6050" stroke-width="0.3"/>
<polygon points="552.7,391.6 551.1,387.6 551.1,394.6 552.7,398.6" fill="#0b493a" stroke="#0a6050" stroke-width="0.3"/>
<polygon points="527.3,387.8 523.1,391.9 523.1,398.9 527.3,394.8" fill="#179577" stroke="#0a6050" stroke-width="0.3"/>
<polygon points="523.1,391.9 521.1,391.7 521.1,398.7 523.1,398.9" fill="#1ec59d" stroke="#0a6050" stroke-width="0.3"/>
<polygon points="548.9,387.8 546.7,392.1 546.7,399.1 548.9,394.8" fill="#106752" stroke="#0a6050" stroke-width="0.3"/>
<polygon points="546.7,392.1 544.6,392.2 544.6,399.2 546.7,399.1" fill="#1fcba1" stroke="#0a6050" stroke-width="0.3"/>
<polygon points="544.6,392.2 543.7,388.1 543.7,395.1 544.6,399.2" fill="#0a4033" stroke="#0a6050" stroke-width="0.3"/>
<polygon points="534.3,388.2 530.8,392.4 530.8,399.4 534.3,395.2" fill="#15886c" stroke="#0a6050" stroke-width="0.3"/>
<polygon points="530.8,392.4 528.7,392.3 528.7,399.3 530.8,399.4" fill="#1fc89f" stroke="#0a6050" stroke-width="0.3"/>
<polygon points="541.5,388.2 538.7,392.4 538.7,399.4 541.5,395.2" fill="#12785f" stroke="#0a6050" stroke-width="0.3"/>
<polygon points="538.7,392.4 536.6,392.5 536.6,399.5 538.7,399.4" fill="#1fcaa0" stroke="#0a6050" stroke-width="0.3"/>
<polygon points="536.6,392.5 536.5,388.2 536.5,395.2 536.6,399.5" fill="#0a3e32" stroke="#0a6050" stroke-width="0.3"/>
<polygon points="631.2,333.8 631.3,334.4 639.1,334.2 639.2,335.4 631.5,337.1 631.5,337.8 631.4,338.3 639.1,338.6 639.0,339.7 631.1,341.1 631.0,341.7 630.9,342.3 638.3,343.0 638.0,344.1 630.1,345.1 629.8,345.7 629.6,346.3 636.8,347.4 636.3,348.5 628.4,349.1 628.0,349.8 627.7,350.3 634.5,351.8 633.8,352.9 626.0,353.1 625.5,353.7 625.1,354.3 631.6,356.1 630.7,357.2 623.0,357.0 622.4,357.6 621.9,358.2 627.9,360.3 626.8,361.4 619.3,360.8 618.7,361.4 618.1,361.9 623.6,364.5 622.3,365.5 615.1,364.5 614.4,365.1 613.7,365.6 618.6,368.4 617.2,369.4 610.3,368.0 609.5,368.5 608.8,369.0 613.1,372.1 611.5,373.1 605.1,371.3 604.2,371.8 603.4,372.2 607.0,375.7 605.4,376.5 599.3,374.4 598.4,374.8 597.5,375.3 600.5,378.9 598.7,379.7 593.2,377.2 592.2,377.6 591.3,378.0 593.5,381.8 591.7,382.6 586.7,379.7 585.7,380.1 584.7,380.5 586.2,384.5 584.3,385.1 579.9,382.0 578.8,382.3 577.9,382.6 578.6,386.8 576.6,387.3 572.9,383.9 571.8,384.2 570.8,384.4 570.8,388.7 568.7,389.1 565.7,385.5 564.6,385.7 563.6,385.9 562.8,390.2 560.7,390.6 558.4,386.7 557.3,386.9 556.2,387.0 554.8,391.4 552.7,391.6 551.1,387.6 549.9,387.7 548.9,387.8 546.7,392.1 544.6,392.2 543.7,388.1 542.6,388.1 541.5,388.2 538.7,392.4 536.6,392.5 536.5,388.2 535.3,388.2 534.3,388.2 530.8,392.4 528.7,392.3 529.4,388.0 528.3,387.9 527.3,387.8 523.1,391.9 521.1,391.7 522.5,387.3 521.4,387.2 520.4,387.1 515.6,391.0 513.7,390.7 515.8,386.3 514.8,386.1 513.9,386.0 508.5,389.7 506.7,389.3 509.5,385.0 508.5,384.7 507.7,384.5 501.8,388.0 500.1,387.5 503.6,383.3 502.7,383.0 501.9,382.7 495.5,385.9 494.0,385.3 498.1,381.2 497.3,380.9 496.6,380.6 489.7,383.5 488.3,382.8 493.1,378.9 492.3,378.5 491.7,378.1 484.5,380.7 483.3,380.0 488.6,376.2 487.9,375.8 487.4,375.4 479.9,377.7 478.8,376.8 484.7,373.3 484.1,372.8 483.6,372.4 476.0,374.3 475.0,373.4 481.4,370.2 480.9,369.6 480.5,369.2 472.7,370.7 471.9,369.7 478.7,366.8 478.3,366.2 478.0,365.7 470.1,366.9 469.5,365.8 476.7,363.2 476.4,362.6 476.2,362.1 468.2,362.9 467.9,361.8 475.3,359.5 475.1,358.9 475.0,358.3 467.1,358.7 467.0,357.6 474.6,355.6 474.6,355.0 474.5,354.5 466.8,354.4 466.8,353.3 474.6,351.7 474.7,351.1 474.8,350.5 467.2,350.0 467.4,348.9 475.3,347.7 475.5,347.1 475.7,346.5 468.3,345.6 468.8,344.5 476.7,343.7 477.0,343.0 477.2,342.5 470.2,341.2 470.8,340.1 478.7,339.7 479.1,339.1 479.5,338.5 472.9,336.9 473.7,335.7 481.5,335.7 481.9,335.1 482.4,334.6 476.2,332.6 477.2,331.5 484.8,331.9 485.4,331.3 485.9,330.7 480.2,328.4 481.4,327.3 488.7,328.1 489.4,327.5 490.0,327.0 484.9,324.3 486.2,323.3 493.2,324.5 494.0,324.0 494.7,323.5 490.1,320.5 491.6,319.5 498.2,321.1 499.1,320.6 499.8,320.1 495.9,316.9 497.5,316.0 503.7,317.9 504.7,317.4 505.5,317.0 502.2,313.5 503.9,312.7 509.7,315.0 510.7,314.5 511.5,314.1 508.9,310.4 510.8,309.6 516.0,312.3 517.0,311.9 517.9,311.5 516.1,307.6 518.0,306.9 522.6,309.9 523.7,309.5 524.7,309.2 523.5,305.1 525.5,304.6 529.5,307.8 530.7,307.5 531.7,307.2 531.3,303.0 533.3,302.6 536.7,306.1 537.8,305.8 538.8,305.6 539.2,301.3 541.2,300.9 543.9,304.6 545.1,304.5 546.1,304.3 547.2,300.0 549.3,299.7 551.2,303.6 552.4,303.5 553.5,303.3 555.3,299.0 557.4,298.8 558.6,302.9 559.8,302.8 560.8,302.8 563.3,298.5 565.4,298.4 565.9,302.6 567.1,302.6 568.1,302.6 571.3,298.4 573.4,298.4 573.1,302.7 574.2,302.7 575.2,302.8 579.1,298.6 581.1,298.8 580.1,303.1 581.2,303.2 582.2,303.3 586.7,299.3 588.6,299.6 586.9,303.9 587.9,304.1 588.9,304.2 594.0,300.4 595.8,300.8 593.4,305.1 594.4,305.3 595.2,305.5 600.9,301.9 602.6,302.4 599.5,306.6 600.4,306.9 601.2,307.2 607.4,303.8 609.0,304.4 605.2,308.5 606.1,308.8 606.8,309.1 613.4,306.1 614.9,306.7 610.5,310.7 611.3,311.1 611.9,311.4 618.9,308.7 620.3,309.4 615.2,313.2 615.9,313.6 616.5,314.0 623.8,311.6 625.0,312.4 619.4,316.0 620.0,316.5 620.6,316.9 628.1,314.8 629.1,315.7 623.0,319.0 623.6,319.5 624.0,320.0 631.8,318.3 632.6,319.2 626.0,322.3 626.5,322.9 626.8,323.3 634.7,322.0 635.4,323.0 628.4,325.8 628.7,326.4 629.0,326.9 636.9,325.9 637.4,327.0 630.1,329.4 630.3,330.0 630.5,330.6 638.4,330.0 638.7,331.1 631.1,333.2" fill="#44e040" stroke="#22a050" stroke-width="0.5"/>
<polygon points="625.6,334.7 625.8,336.7 625.8,338.7 625.6,340.8 625.2,342.9 624.6,344.9 623.8,347.0 622.8,349.1 621.7,351.2 620.3,353.2 618.7,355.3 617.0,357.3 615.1,359.2 613.0,361.2 610.8,363.0 608.4,364.9 605.8,366.7 603.1,368.4 600.3,370.1 597.3,371.7 594.2,373.2 591.0,374.6 587.7,376.0 584.3,377.3 580.8,378.5 577.3,379.6 573.6,380.6 569.9,381.5 566.2,382.4 562.4,383.1 558.7,383.7 554.8,384.2 551.0,384.6 547.2,384.9 543.4,385.1 539.7,385.2 535.9,385.1 532.2,385.0 528.6,384.7 525.1,384.4 521.6,383.9 518.2,383.4 514.9,382.7 511.7,381.9 508.6,381.0 505.6,380.1 502.8,379.0 500.1,377.8 497.6,376.6 495.2,375.2 492.9,373.8 490.8,372.3 488.9,370.8 487.2,369.1 485.7,367.4 484.3,365.7 483.1,363.9 482.1,362.0 481.3,360.1 480.8,358.1 480.4,356.1 480.2,354.1 480.2,352.1 480.4,350.0 480.8,347.9 481.4,345.9 482.2,343.8 483.2,341.7 484.3,339.6 485.7,337.6 487.3,335.5 489.0,333.5 490.9,331.6 493.0,329.6 495.2,327.8 497.6,325.9 500.2,324.1 502.9,322.4 505.7,320.7 508.7,319.1 511.8,317.6 515.0,316.2 518.3,314.8 521.7,313.5 525.2,312.3 528.7,311.2 532.4,310.2 536.1,309.3 539.8,308.4 543.6,307.7 547.3,307.1 551.2,306.6 555.0,306.2 558.8,305.9 562.6,305.7 566.3,305.6 570.1,305.7 573.8,305.8 577.4,306.1 580.9,306.4 584.4,306.9 587.8,307.4 591.1,308.1 594.3,308.9 597.4,309.8 600.4,310.7 603.2,311.8 605.9,313.0 608.4,314.2 610.8,315.6 613.1,317.0 615.2,318.5 617.1,320.0 618.8,321.7 620.3,323.4 621.7,325.1 622.9,326.9 623.9,328.8 624.7,330.7 625.2,332.7" fill="#2ee4b4" stroke="#1f8a3a" stroke-width="1.1"/>
<ellipse cx="600.7" cy="326.4" rx="9.9" ry="5.7" fill="url(#hwR)" transform="rotate(-8.4 600.7 326.4)"/>
<clipPath id="Rh0"><ellipse cx="600.7" cy="326.4" rx="9.9" ry="5.7" transform="rotate(-8.4 600.7 326.4)"/></clipPath>
<ellipse cx="600.7" cy="331.0" rx="9.9" ry="5.7" fill="#fff" transform="rotate(-8.4 600.7 331.0)" clip-path="url(#Rh0)"/>
<ellipse cx="605.7" cy="347.9" rx="9.9" ry="5.7" fill="url(#hwR)" transform="rotate(-8.4 605.7 347.9)"/>
<clipPath id="Rh1"><ellipse cx="605.7" cy="347.9" rx="9.9" ry="5.7" transform="rotate(-8.4 605.7 347.9)"/></clipPath>
<ellipse cx="605.7" cy="352.5" rx="9.9" ry="5.7" fill="#fff" transform="rotate(-8.4 605.7 352.5)" clip-path="url(#Rh1)"/>
<ellipse cx="580.7" cy="368.6" rx="9.9" ry="5.7" fill="url(#hwR)" transform="rotate(-8.4 580.7 368.6)"/>
<clipPath id="Rh2"><ellipse cx="580.7" cy="368.6" rx="9.9" ry="5.7" transform="rotate(-8.4 580.7 368.6)"/></clipPath>
<ellipse cx="580.7" cy="373.20000000000005" rx="9.9" ry="5.7" fill="#fff" transform="rotate(-8.4 580.7 373.20000000000005)" clip-path="url(#Rh2)"/>
<ellipse cx="538.8" cy="376.9" rx="9.9" ry="5.7" fill="url(#hwR)" transform="rotate(-8.4 538.8 376.9)"/>
<clipPath id="Rh3"><ellipse cx="538.8" cy="376.9" rx="9.9" ry="5.7" transform="rotate(-8.4 538.8 376.9)"/></clipPath>
<ellipse cx="538.8" cy="381.5" rx="9.9" ry="5.7" fill="#fff" transform="rotate(-8.4 538.8 381.5)" clip-path="url(#Rh3)"/>
<ellipse cx="505.9" cy="366.9" rx="9.9" ry="5.7" fill="url(#hwR)" transform="rotate(-8.4 505.9 366.9)"/>
<clipPath id="Rh4"><ellipse cx="505.9" cy="366.9" rx="9.9" ry="5.7" transform="rotate(-8.4 505.9 366.9)"/></clipPath>
<ellipse cx="505.9" cy="371.5" rx="9.9" ry="5.7" fill="#fff" transform="rotate(-8.4 505.9 371.5)" clip-path="url(#Rh4)"/>
<ellipse cx="499.8" cy="345.5" rx="9.9" ry="5.7" fill="url(#hwR)" transform="rotate(-8.4 499.8 345.5)"/>
<clipPath id="Rh5"><ellipse cx="499.8" cy="345.5" rx="9.9" ry="5.7" transform="rotate(-8.4 499.8 345.5)"/></clipPath>
<ellipse cx="499.8" cy="350.1" rx="9.9" ry="5.7" fill="#fff" transform="rotate(-8.4 499.8 350.1)" clip-path="url(#Rh5)"/>
<polygon points="583.5,343.3 583.6,343.8 589.7,344.1 589.6,345.5 583.3,346.9 583.2,347.4 583.0,347.9 588.5,349.0 587.7,350.5 581.3,351.0 581.0,351.5 580.6,352.0 585.2,353.9 583.8,355.3 577.6,355.0 577.1,355.5 576.5,355.9 579.9,358.4 578.0,359.7 572.4,358.6 571.7,359.0 571.0,359.4 572.9,362.4 570.6,363.4 566.0,361.6 565.1,361.9 564.3,362.2 564.8,365.5 562.1,366.2 558.7,363.7 557.8,363.9 556.9,364.1 555.8,367.6 553.0,368.0 551.0,365.0 550.1,365.1 549.2,365.1 546.6,368.5 543.9,368.6 543.3,365.3 542.4,365.2 541.6,365.2 537.7,368.3 535.1,368.0 536.2,364.5 535.3,364.4 534.5,364.2 529.5,366.8 527.3,366.2 529.9,362.8 529.2,362.6 528.5,362.3 522.7,364.3 521.0,363.4 524.8,360.3 524.3,359.9 523.8,359.5 517.5,360.9 516.4,359.7 521.3,357.0 521.0,356.6 520.7,356.1 514.3,356.7 513.8,355.3 519.6,353.2 519.5,352.7 519.4,352.2 513.3,351.9 513.4,350.5 519.7,349.1 519.8,348.6 520.0,348.1 514.5,347.0 515.3,345.5 521.7,345.0 522.0,344.5 522.4,344.0 517.8,342.1 519.2,340.7 525.4,341.0 525.9,340.5 526.5,340.1 523.1,337.6 525.0,336.3 530.6,337.4 531.3,337.0 532.0,336.6 530.1,333.6 532.4,332.6 537.0,334.4 537.9,334.1 538.7,333.8 538.2,330.5 540.9,329.8 544.3,332.3 545.2,332.1 546.1,331.9 547.2,328.4 550.0,328.0 552.0,331.0 552.9,330.9 553.8,330.9 556.4,327.5 559.1,327.4 559.7,330.7 560.6,330.8 561.4,330.8 565.3,327.7 567.9,328.0 566.8,331.5 567.7,331.6 568.5,331.8 573.5,329.2 575.7,329.8 573.1,333.2 573.8,333.4 574.5,333.7 580.3,331.7 582.0,332.6 578.2,335.7 578.7,336.1 579.2,336.5 585.5,335.1 586.6,336.3 581.7,339.0 582.0,339.4 582.3,339.9 588.7,339.3 589.2,340.7 583.4,342.8" fill="#0a2266" />
<polygon points="567.9,310.0 566.8,313.5 566.8,331.5 567.9,328.0" fill="#0f304d" stroke="#0c2a78" stroke-width="0.3"/>
<polygon points="575.7,311.8 573.1,315.2 573.1,333.2 575.7,329.8" fill="#1b5588" stroke="#0c2a78" stroke-width="0.3"/>
<polygon points="538.7,315.8 538.2,312.5 538.2,330.5 538.7,333.8" fill="#0a1f32" stroke="#0c2a78" stroke-width="0.3"/>
<polygon points="582.0,314.6 578.2,317.7 578.2,335.7 582.0,332.6" fill="#2572b7" stroke="#0c2a78" stroke-width="0.3"/>
<polygon points="532.0,318.6 530.1,315.6 530.1,333.6 532.0,336.6" fill="#12385b" stroke="#0c2a78" stroke-width="0.3"/>
<polygon points="586.6,318.3 581.7,321.0 581.7,339.0 586.6,336.3" fill="#2b84d5" stroke="#0c2a78" stroke-width="0.3"/>
<polygon points="526.5,322.1 523.1,319.6 523.1,337.6 526.5,340.1" fill="#1f609a" stroke="#0c2a78" stroke-width="0.3"/>
<polygon points="589.2,322.7 583.4,324.8 583.4,342.8 589.2,340.7" fill="#2e8fe6" stroke="#0c2a78" stroke-width="0.3"/>
<polygon points="522.4,326.0 517.8,324.1 517.8,342.1 522.4,344.0" fill="#287cc7" stroke="#0c2a78" stroke-width="0.3"/>
<polygon points="589.7,326.1 589.6,327.5 589.6,345.5 589.7,344.1" fill="#0b2338" stroke="#0c2a78" stroke-width="0.3"/>
<polygon points="589.6,327.5 583.3,328.9 583.3,346.9 589.6,345.5" fill="#3094ee" stroke="#0c2a78" stroke-width="0.3"/>
<polygon points="583.3,328.9 583.2,329.4 583.2,347.4 583.3,346.9" fill="#0f2f4b" stroke="#0c2a78" stroke-width="0.3"/>
<polygon points="583.2,329.4 583.0,329.9 583.0,347.9 583.2,347.4" fill="#103351" stroke="#0c2a78" stroke-width="0.3"/>
<polygon points="520.0,330.1 514.5,329.0 514.5,347.0 520.0,348.1" fill="#2d8be0" stroke="#0c2a78" stroke-width="0.3"/>
<polygon points="588.5,331.0 587.7,332.5 587.7,350.5 588.5,349.0" fill="#16436c" stroke="#0c2a78" stroke-width="0.3"/>
<polygon points="587.7,332.5 581.3,333.0 581.3,351.0 587.7,350.5" fill="#3096f1" stroke="#0c2a78" stroke-width="0.3"/>
<polygon points="581.3,333.0 581.0,333.5 581.0,351.5 581.3,351.0" fill="#1b5386" stroke="#0c2a78" stroke-width="0.3"/>
<polygon points="581.0,333.5 580.6,334.0 580.6,352.0 581.0,351.5" fill="#1c578d" stroke="#0c2a78" stroke-width="0.3"/>
<polygon points="519.4,334.2 513.3,333.9 513.3,351.9 519.4,352.2" fill="#2f93ec" stroke="#0c2a78" stroke-width="0.3"/>
<polygon points="519.5,334.7 519.4,334.2 519.4,352.2 519.5,352.7" fill="#0a1f32" stroke="#0c2a78" stroke-width="0.3"/>
<polygon points="519.6,335.2 519.5,334.7 519.5,352.7 519.6,353.2" fill="#0a1f33" stroke="#0c2a78" stroke-width="0.3"/>
<polygon points="585.2,335.9 583.8,337.3 583.8,355.3 585.2,353.9" fill="#2165a3" stroke="#0c2a78" stroke-width="0.3"/>
<polygon points="583.8,337.3 577.6,337.0 577.6,355.0 583.8,355.3" fill="#2f93ed" stroke="#0c2a78" stroke-width="0.3"/>
<polygon points="577.6,337.0 577.1,337.5 577.1,355.5 577.6,355.0" fill="#2471b6" stroke="#0c2a78" stroke-width="0.3"/>
<polygon points="577.1,337.5 576.5,337.9 576.5,355.9 577.1,355.5" fill="#2574ba" stroke="#0c2a78" stroke-width="0.3"/>
<polygon points="521.0,338.6 520.7,338.1 520.7,356.1 521.0,356.6" fill="#123758" stroke="#0c2a78" stroke-width="0.3"/>
<polygon points="520.7,338.1 514.3,338.7 514.3,356.7 520.7,356.1" fill="#3096f1" stroke="#0c2a78" stroke-width="0.3"/>
<polygon points="514.3,338.7 513.8,337.3 513.8,355.3 514.3,356.7" fill="#0d2840" stroke="#0c2a78" stroke-width="0.3"/>
<polygon points="521.3,339.0 521.0,338.6 521.0,356.6 521.3,357.0" fill="#133c60" stroke="#0c2a78" stroke-width="0.3"/>
<polygon points="572.4,340.6 571.7,341.0 571.7,359.0 572.4,358.6" fill="#2a84d4" stroke="#0c2a78" stroke-width="0.3"/>
<polygon points="571.7,341.0 571.0,341.4 571.0,359.4 571.7,359.0" fill="#2b85d6" stroke="#0c2a78" stroke-width="0.3"/>
<polygon points="579.9,340.4 578.0,341.7 578.0,359.7 579.9,358.4" fill="#287dc8" stroke="#0c2a78" stroke-width="0.3"/>
<polygon points="578.0,341.7 572.4,340.6 572.4,358.6 578.0,359.7" fill="#2d8ce1" stroke="#0c2a78" stroke-width="0.3"/>
<polygon points="524.3,341.9 523.8,341.5 523.8,359.5 524.3,359.9" fill="#1e5e98" stroke="#0c2a78" stroke-width="0.3"/>
<polygon points="524.8,342.3 524.3,341.9 524.3,359.9 524.8,360.3" fill="#20629e" stroke="#0c2a78" stroke-width="0.3"/>
<polygon points="523.8,341.5 517.5,342.9 517.5,360.9 523.8,359.5" fill="#3094ef" stroke="#0c2a78" stroke-width="0.3"/>
<polygon points="517.5,342.9 516.4,341.7 516.4,359.7 517.5,360.9" fill="#194e7d" stroke="#0c2a78" stroke-width="0.3"/>
<polygon points="566.0,343.6 565.1,343.9 565.1,361.9 566.0,361.6" fill="#2e8fe5" stroke="#0c2a78" stroke-width="0.3"/>
<polygon points="565.1,343.9 564.3,344.2 564.3,362.2 565.1,361.9" fill="#2e8fe7" stroke="#0c2a78" stroke-width="0.3"/>
<polygon points="529.2,344.6 528.5,344.3 528.5,362.3 529.2,362.6" fill="#277bc5" stroke="#0c2a78" stroke-width="0.3"/>
<polygon points="529.9,344.8 529.2,344.6 529.2,362.6 529.9,362.8" fill="#287dc9" stroke="#0c2a78" stroke-width="0.3"/>
<polygon points="572.9,344.4 570.6,345.4 570.6,363.4 572.9,362.4" fill="#2d8bdf" stroke="#0c2a78" stroke-width="0.3"/>
<polygon points="570.6,345.4 566.0,343.6 566.0,361.6 570.6,363.4" fill="#287cc8" stroke="#0c2a78" stroke-width="0.3"/>
<polygon points="558.7,345.7 557.8,345.9 557.8,363.9 558.7,363.7" fill="#3094ee" stroke="#0c2a78" stroke-width="0.3"/>
<polygon points="557.8,345.9 556.9,346.1 556.9,364.1 557.8,363.9" fill="#3095ef" stroke="#0c2a78" stroke-width="0.3"/>
<polygon points="528.5,344.3 522.7,346.3 522.7,364.3 528.5,362.3" fill="#2e8fe6" stroke="#0c2a78" stroke-width="0.3"/>
<polygon points="522.7,346.3 521.0,345.4 521.0,363.4 522.7,364.3" fill="#2470b4" stroke="#0c2a78" stroke-width="0.3"/>
<polygon points="535.3,346.4 534.5,346.2 534.5,364.2 535.3,364.4" fill="#2d8bdf" stroke="#0c2a78" stroke-width="0.3"/>
<polygon points="536.2,346.5 535.3,346.4 535.3,364.4 536.2,364.5" fill="#2d8ce1" stroke="#0c2a78" stroke-width="0.3"/>
<polygon points="551.0,347.0 550.1,347.1 550.1,365.1 551.0,365.0" fill="#3096f1" stroke="#0c2a78" stroke-width="0.3"/>
<polygon points="550.1,347.1 549.2,347.1 549.2,365.1 550.1,365.1" fill="#3096f1" stroke="#0c2a78" stroke-width="0.3"/>
<polygon points="542.4,347.2 541.6,347.2 541.6,365.2 542.4,365.2" fill="#2f93ec" stroke="#0c2a78" stroke-width="0.3"/>
<polygon points="543.3,347.3 542.4,347.2 542.4,365.2 543.3,365.3" fill="#2f93ed" stroke="#0c2a78" stroke-width="0.3"/>
<polygon points="564.8,347.5 562.1,348.2 562.1,366.2 564.8,365.5" fill="#2f92eb" stroke="#0c2a78" stroke-width="0.3"/>
<polygon points="562.1,348.2 558.7,345.7 558.7,363.7 562.1,366.2" fill="#1f619c" stroke="#0c2a78" stroke-width="0.3"/>
<polygon points="534.5,346.2 529.5,348.8 529.5,366.8 534.5,364.2" fill="#2b85d5" stroke="#0c2a78" stroke-width="0.3"/>
<polygon points="529.5,348.8 527.3,348.2 527.3,366.2 529.5,366.8" fill="#2b85d6" stroke="#0c2a78" stroke-width="0.3"/>
<polygon points="556.9,346.1 555.8,349.6 555.8,367.6 556.9,364.1" fill="#10314f" stroke="#0c2a78" stroke-width="0.3"/>
<polygon points="555.8,349.6 553.0,350.0 553.0,368.0 555.8,367.6" fill="#3096f0" stroke="#0c2a78" stroke-width="0.3"/>
<polygon points="553.0,350.0 551.0,347.0 551.0,365.0 553.0,368.0" fill="#133a5d" stroke="#0c2a78" stroke-width="0.3"/>
<polygon points="541.6,347.2 537.7,350.3 537.7,368.3 541.6,365.2" fill="#2573b8" stroke="#0c2a78" stroke-width="0.3"/>
<polygon points="537.7,350.3 535.1,350.0 535.1,368.0 537.7,368.3" fill="#2e90e8" stroke="#0c2a78" stroke-width="0.3"/>
<polygon points="549.2,347.1 546.6,350.5 546.6,368.5 549.2,365.1" fill="#1c568a" stroke="#0c2a78" stroke-width="0.3"/>
<polygon points="546.6,350.5 543.9,350.6 543.9,368.6 546.6,368.5" fill="#3095f0" stroke="#0c2a78" stroke-width="0.3"/>
<polygon points="543.9,350.6 543.3,347.3 543.3,365.3 543.9,368.6" fill="#0a1f32" stroke="#0c2a78" stroke-width="0.3"/>
<polygon points="583.5,325.3 583.6,325.8 589.7,326.1 589.6,327.5 583.3,328.9 583.2,329.4 583.0,329.9 588.5,331.0 587.7,332.5 581.3,333.0 581.0,333.5 580.6,334.0 585.2,335.9 583.8,337.3 577.6,337.0 577.1,337.5 576.5,337.9 579.9,340.4 578.0,341.7 572.4,340.6 571.7,341.0 571.0,341.4 572.9,344.4 570.6,345.4 566.0,343.6 565.1,343.9 564.3,344.2 564.8,347.5 562.1,348.2 558.7,345.7 557.8,345.9 556.9,346.1 555.8,349.6 553.0,350.0 551.0,347.0 550.1,347.1 549.2,347.1 546.6,350.5 543.9,350.6 543.3,347.3 542.4,347.2 541.6,347.2 537.7,350.3 535.1,350.0 536.2,346.5 535.3,346.4 534.5,346.2 529.5,348.8 527.3,348.2 529.9,344.8 529.2,344.6 528.5,344.3 522.7,346.3 521.0,345.4 524.8,342.3 524.3,341.9 523.8,341.5 517.5,342.9 516.4,341.7 521.3,339.0 521.0,338.6 520.7,338.1 514.3,338.7 513.8,337.3 519.6,335.2 519.5,334.7 519.4,334.2 513.3,333.9 513.4,332.5 519.7,331.1 519.8,330.6 520.0,330.1 514.5,329.0 515.3,327.5 521.7,327.0 522.0,326.5 522.4,326.0 517.8,324.1 519.2,322.7 525.4,323.0 525.9,322.5 526.5,322.1 523.1,319.6 525.0,318.3 530.6,319.4 531.3,319.0 532.0,318.6 530.1,315.6 532.4,314.6 537.0,316.4 537.9,316.1 538.7,315.8 538.2,312.5 540.9,311.8 544.3,314.3 545.2,314.1 546.1,313.9 547.2,310.4 550.0,310.0 552.0,313.0 552.9,312.9 553.8,312.9 556.4,309.5 559.1,309.4 559.7,312.7 560.6,312.8 561.4,312.8 565.3,309.7 567.9,310.0 566.8,313.5 567.7,313.6 568.5,313.8 573.5,311.2 575.7,311.8 573.1,315.2 573.8,315.4 574.5,315.7 580.3,313.7 582.0,314.6 578.2,317.7 578.7,318.1 579.2,318.5 585.5,317.1 586.6,318.3 581.7,321.0 582.0,321.4 582.3,321.9 588.7,321.3 589.2,322.7 583.4,324.8" fill="#3aa8b0" stroke="#1a50b0" stroke-width="0.7"/>
<ellipse cx="550.5" cy="330.7" rx="32" ry="16.5" fill="url(#hubR)" transform="rotate(-10 550.5 330.7)"/>
<path d="M230.56,276.30 Q232.73,273.00 235.56,276.30 L236.27,281.80 L238.52,284.50 L236.23,289.20 L237.59,290.40 L237.62,292.20 L235.30,292.80 L233.02,292.20 L232.79,290.40 L233.43,289.20 L229.92,284.50 L231.27,281.80 Z" fill="#c81414"/>
<text x="222.6" y="270.2" font-size="3.6" fill="#6a1818" font-family="Liberation Sans" textLength="18.7">Gate: mod</text>
<path d="M540.43,283.05 Q542.64,280.02 545.43,283.05 L546.09,288.10 L548.31,290.58 L545.97,294.90 L547.31,296.00 L547.33,297.65 L545.00,298.20 L542.73,297.65 L542.51,296.00 L543.17,294.90 L539.71,290.58 L541.09,288.10 Z" fill="#c81414"/>
<text x="533" y="277.7" font-size="3.6" fill="#6a1818" font-family="Liberation Sans" textLength="16.8">Gate: mod</text>
<!-- left info -->
<text x="97" y="422.7" font-size="8.6" fill="#b82a2a" font-family="Liberation Sans" textLength="43" lengthAdjust="spacingAndGlyphs">Moldex<tspan fill="#e2c088">3D</tspan></text>
<text x="97" y="431.5" class="nv">50</text>
<text x="97" y="436.5" class="nv">0</text>
<text x="97" y="442.5" class="nv">150</text>
<text x="97" y="449" class="nv">1.33</text>
<text x="115" y="431.5" class="inf" textLength="159">Run 5:PIM Sample-new_1.mfe/MIM_Catamold617-4PH_1226_5_1.mfe/Gear_5.pro</text>
<text x="115" y="437" class="infi" textLength="197">Rng: 59.9 ~ 60  Avg: 60 %  (@100% (0.0998 sec)) (Enhanced Solved,Ep=135,859 Ec=0 Em=0 &lt;Mixed&gt;</text>
<text x="115" y="443" class="infi" style="font-size:3.3px">Copy of Run 2</text>
<!-- right info -->
<text x="420" y="414.5" font-size="8" fill="#b82a2a" font-family="Liberation Sans" textLength="38.6" lengthAdjust="spacingAndGlyphs">Moldex<tspan fill="#e2c088">3D</tspan></text>
<text x="419.5" y="422.5" class="nv">50</text>
<text x="419.5" y="427.5" class="nv">0</text>
<text x="419.5" y="433" class="nv">Tad</text>
<text x="419.5" y="438.5" class="nv">1.33</text>
<text x="436.5" y="422.5" class="inf" textLength="143">Run 5:PIM Sample-new_1.mfe/MIM_Catamold617-4PH_1226_5_1.mfe/Gear_5.pro</text>
<text x="436.5" y="427.8" class="infi" textLength="181">Rng: 936 ~ 105  Avg: 102 oC  (@100% (0.0998 sec)) (Enhanced Solved,Ep=135,859 Ec=0 Em=0 &lt;Mixed&gt;</text>
<text x="436.5" y="433" class="infi" style="font-size:3.3px">Copy of Run 1</text>
<text x="374.5" y="446.2" font-size="3.6" fill="#303080" font-family="Liberation Sans" textLength="82">P:\Moldex\Moldex3D\R10\MIM\Sample\Gear_5.m3d</text>
<rect x="372" y="449.2" width="283" height="0.9" fill="#ececec"/>
</svg>
<div class="abs" id="pg">37</div>
</body></html>
